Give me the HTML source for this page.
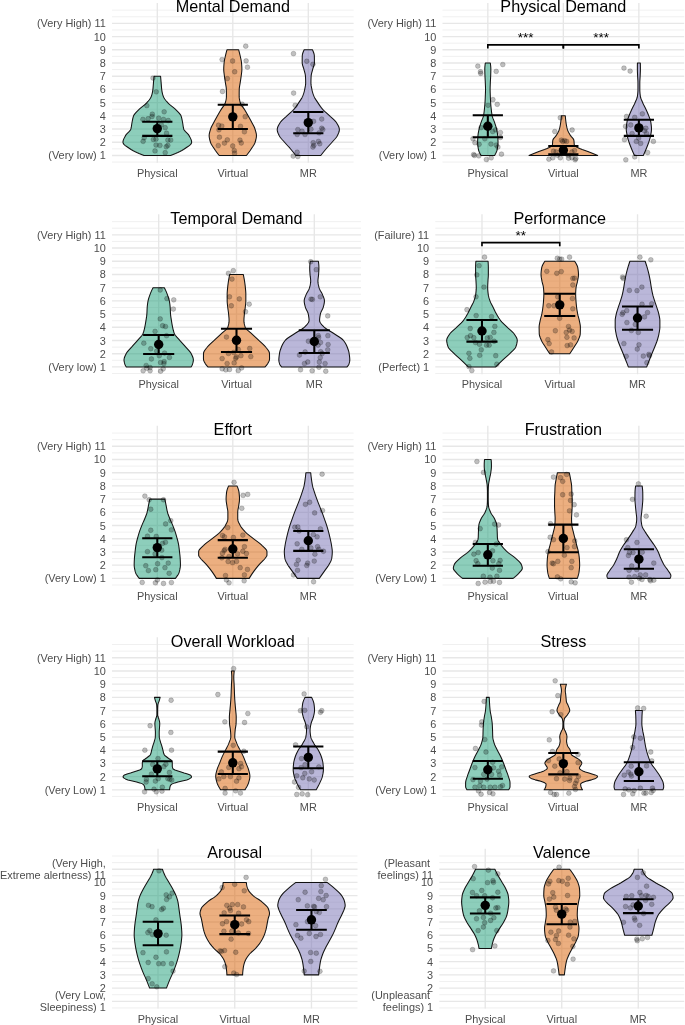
<!DOCTYPE html>
<html><head><meta charset="utf-8"><title>NASA-TLX violin plots</title>
<style>html,body{margin:0;padding:0;background:#fff}svg{display:block}</style></head>
<body>
<svg width="685" height="1025" viewBox="0 0 685 1025" font-family="Liberation Sans, Arial, sans-serif">
<rect width="685" height="1025" fill="#fff"/>
<g>
<path d="M112 162.06H353.6M112 148.86H353.6M112 135.65H353.6M112 122.44H353.6M112 109.23H353.6M112 96.02H353.6M112 82.81H353.6M112 69.59H353.6M112 56.39H353.6M112 43.17H353.6M112 29.96H353.6M112 16.75H353.6M112 10.15H353.6" stroke="#eaeaea" stroke-width="0.7" fill="none"/>
<path d="M112 155.46H353.6M112 142.25H353.6M112 129.04H353.6M112 115.83H353.6M112 102.62H353.6M112 89.41H353.6M112 76.2H353.6M112 62.99H353.6M112 49.78H353.6M112 36.57H353.6M112 23.36H353.6M157.3 2.88V162.73M232.8 2.88V162.73M308.3 2.88V162.73" stroke="#e7e7e7" stroke-width="1.35" fill="none"/>
<g font-size="10.9" fill="#4d4d4d" text-anchor="end">
<text x="105.8" y="159.46">(Very low) 1</text>
<text x="105.8" y="146.25">2</text>
<text x="105.8" y="133.04">3</text>
<text x="105.8" y="119.83">4</text>
<text x="105.8" y="106.62">5</text>
<text x="105.8" y="93.41">6</text>
<text x="105.8" y="80.2">7</text>
<text x="105.8" y="66.99">8</text>
<text x="105.8" y="53.78">9</text>
<text x="105.8" y="40.57">10</text>
<text x="105.8" y="27.36">(Very High) 11</text>
</g>
<g font-size="10.9" fill="#4d4d4d" text-anchor="middle">
<text x="157.3" y="176.96">Physical</text>
<text x="232.8" y="176.96">Virtual</text>
<text x="308.3" y="176.96">MR</text>
</g>
<text x="232.8" y="12.16" font-size="16.2" fill="#000" text-anchor="middle">Mental Demand</text>
<path d="M154.02 76.2L153.94 77.19L153.85 78.18L153.77 79.17L153.69 80.16L153.61 81.15L153.52 82.14L153.44 83.14L153.36 84.13L153.28 85.12L153.2 86.11L153.12 87.1L153.03 88.09L152.93 89.08L152.8 90.07L152.65 91.06L152.47 92.05L152.26 93.04L152.01 94.03L151.72 95.02L151.4 96.02L151.02 97.01L150.51 98L149.88 98.99L149.15 99.98L148.36 100.97L147.51 101.96L146.64 102.95L145.67 103.94L144.53 104.93L143.29 105.92L142.01 106.91L140.76 107.9L139.61 108.89L138.6 109.89L137.6 110.88L136.61 111.87L135.67 112.86L134.82 113.85L134.1 114.84L133.57 115.83L133.23 116.82L132.95 117.81L132.72 118.8L132.52 119.79L132.34 120.78L132.16 121.77L131.97 122.77L131.8 123.76L131.65 124.75L131.51 125.74L131.36 126.73L131.18 127.72L130.95 128.71L130.6 129.7L129.95 130.69L129.07 131.68L128.07 132.67L127.06 133.66L126.16 134.65L125.48 135.65L124.95 136.64L124.43 137.63L123.94 138.62L123.51 139.61L123.18 140.6L122.99 141.59L122.97 142.58L123.36 143.57L124.17 144.56L125.29 145.55L126.63 146.54L128.09 147.53L129.56 148.52L131.04 149.52L132.74 150.51L134.65 151.5L136.76 152.49L139.04 153.48L141.47 154.47L144.03 155.46L170.57 155.46L173.13 154.47L175.56 153.48L177.84 152.49L179.95 151.5L181.86 150.51L183.56 149.52L185.04 148.52L186.51 147.53L187.97 146.54L189.31 145.55L190.43 144.56L191.24 143.57L191.63 142.58L191.61 141.59L191.42 140.6L191.09 139.61L190.66 138.62L190.17 137.63L189.65 136.64L189.12 135.65L188.44 134.65L187.54 133.66L186.53 132.67L185.53 131.68L184.65 130.69L184 129.7L183.65 128.71L183.42 127.72L183.24 126.73L183.09 125.74L182.95 124.75L182.8 123.76L182.63 122.77L182.44 121.77L182.26 120.78L182.08 119.79L181.88 118.8L181.65 117.81L181.37 116.82L181.03 115.83L180.5 114.84L179.78 113.85L178.93 112.86L177.99 111.87L177 110.88L176 109.89L174.99 108.89L173.84 107.9L172.59 106.91L171.31 105.92L170.07 104.93L168.93 103.94L167.96 102.95L167.09 101.96L166.24 100.97L165.45 99.98L164.72 98.99L164.09 98L163.58 97.01L163.2 96.02L162.88 95.02L162.59 94.03L162.34 93.04L162.13 92.05L161.95 91.06L161.8 90.07L161.67 89.08L161.57 88.09L161.48 87.1L161.4 86.11L161.32 85.12L161.24 84.13L161.16 83.14L161.08 82.14L160.99 81.15L160.91 80.16L160.83 79.17L160.75 78.18L160.66 77.19L160.58 76.2Z" fill="#1B9E77" fill-opacity="0.5" stroke="#111" stroke-width="1.05" stroke-linejoin="round"/>
<path d="M226.95 49.78L226.67 50.78L226.4 51.77L226.14 52.77L225.89 53.77L225.66 54.76L225.43 55.76L225.21 56.76L224.99 57.76L224.76 58.75L224.56 59.75L224.37 60.75L224.22 61.74L224.11 62.74L224.02 63.74L223.94 64.73L223.87 65.73L223.8 66.73L223.76 67.73L223.74 68.72L223.74 69.72L223.79 70.72L223.87 71.71L223.98 72.71L224.11 73.71L224.24 74.7L224.37 75.7L224.5 76.7L224.63 77.7L224.78 78.69L224.93 79.69L225.09 80.69L225.25 81.68L225.4 82.68L225.56 83.68L225.73 84.67L225.91 85.67L226.08 86.67L226.22 87.67L226.32 88.66L226.36 89.66L226.38 90.66L226.4 91.65L226.41 92.65L226.42 93.65L226.42 94.64L226.43 95.64L226.42 96.64L226.35 97.64L226.23 98.63L226.06 99.63L225.86 100.63L225.63 101.62L225.38 102.62L225.03 103.62L224.5 104.61L223.85 105.61L223.13 106.61L222.4 107.6L221.7 108.6L221.08 109.6L220.49 110.6L219.9 111.59L219.32 112.59L218.75 113.59L218.18 114.58L217.61 115.58L217.05 116.58L216.49 117.57L215.93 118.57L215.38 119.57L214.83 120.57L214.3 121.56L213.78 122.56L213.24 123.56L212.69 124.55L212.14 125.55L211.63 126.55L211.16 127.54L210.77 128.54L210.45 129.54L210.14 130.54L209.84 131.53L209.58 132.53L209.36 133.53L209.21 134.52L209.15 135.52L209.19 136.52L209.3 137.51L209.48 138.51L209.7 139.51L209.97 140.51L210.26 141.5L210.56 142.5L210.97 143.5L211.49 144.49L212.09 145.49L212.74 146.49L213.42 147.48L214.09 148.48L214.74 149.48L215.42 150.48L216.13 151.47L216.86 152.47L217.62 153.47L218.4 154.46L219.2 155.46L246.4 155.46L247.2 154.46L247.98 153.47L248.74 152.47L249.47 151.47L250.18 150.48L250.86 149.48L251.51 148.48L252.18 147.48L252.86 146.49L253.51 145.49L254.11 144.49L254.63 143.5L255.04 142.5L255.34 141.5L255.63 140.51L255.9 139.51L256.12 138.51L256.3 137.51L256.41 136.52L256.45 135.52L256.39 134.52L256.24 133.53L256.02 132.53L255.76 131.53L255.46 130.54L255.15 129.54L254.83 128.54L254.44 127.54L253.97 126.55L253.46 125.55L252.91 124.55L252.36 123.56L251.82 122.56L251.3 121.56L250.77 120.57L250.22 119.57L249.67 118.57L249.11 117.57L248.55 116.58L247.99 115.58L247.42 114.58L246.85 113.59L246.28 112.59L245.7 111.59L245.11 110.6L244.52 109.6L243.9 108.6L243.2 107.6L242.47 106.61L241.75 105.61L241.1 104.61L240.57 103.62L240.22 102.62L239.97 101.62L239.74 100.63L239.54 99.63L239.37 98.63L239.25 97.64L239.18 96.64L239.17 95.64L239.18 94.64L239.18 93.65L239.19 92.65L239.2 91.65L239.22 90.66L239.24 89.66L239.28 88.66L239.38 87.67L239.52 86.67L239.69 85.67L239.87 84.67L240.04 83.68L240.2 82.68L240.35 81.68L240.51 80.69L240.67 79.69L240.82 78.69L240.97 77.7L241.1 76.7L241.23 75.7L241.36 74.7L241.49 73.71L241.62 72.71L241.73 71.71L241.81 70.72L241.86 69.72L241.86 68.72L241.84 67.73L241.8 66.73L241.73 65.73L241.66 64.73L241.58 63.74L241.49 62.74L241.38 61.74L241.23 60.75L241.04 59.75L240.84 58.75L240.61 57.76L240.39 56.76L240.17 55.76L239.94 54.76L239.71 53.77L239.46 52.77L239.2 51.77L238.93 50.78L238.65 49.78Z" fill="#D95F02" fill-opacity="0.5" stroke="#111" stroke-width="1.05" stroke-linejoin="round"/>
<path d="M304.16 49.78L303.72 50.78L303.29 51.77L302.92 52.77L302.6 53.77L302.38 54.76L302.27 55.76L302.24 56.76L302.23 57.76L302.21 58.75L302.2 59.75L302.2 60.75L302.19 61.74L302.19 62.74L302.29 63.74L302.49 64.73L302.78 65.73L303.1 66.73L303.43 67.73L303.72 68.72L303.98 69.72L304.25 70.72L304.53 71.71L304.81 72.71L305.06 73.71L305.27 74.7L305.42 75.7L305.49 76.7L305.54 77.7L305.58 78.69L305.62 79.69L305.65 80.69L305.66 81.68L305.67 82.68L305.65 83.68L305.57 84.67L305.44 85.67L305.26 86.67L305.07 87.67L304.86 88.66L304.66 89.66L304.44 90.66L304.19 91.65L303.91 92.65L303.6 93.65L303.26 94.64L302.89 95.64L302.48 96.64L301.98 97.64L301.41 98.63L300.79 99.63L300.13 100.63L299.46 101.62L298.79 102.62L298.14 103.62L297.47 104.61L296.78 105.61L296.06 106.61L295.31 107.6L294.5 108.6L293.64 109.6L292.67 110.6L291.62 111.59L290.5 112.59L289.37 113.59L288.25 114.58L287.17 115.58L286.11 116.58L284.99 117.57L283.87 118.57L282.79 119.57L281.79 120.57L280.93 121.56L280.26 122.56L279.64 123.56L279.03 124.55L278.47 125.55L277.98 126.55L277.59 127.54L277.33 128.54L277.23 129.54L277.3 130.54L277.51 131.53L277.83 132.53L278.24 133.53L278.68 134.52L279.15 135.52L279.68 136.52L280.38 137.51L281.19 138.51L282.07 139.51L283 140.51L283.91 141.5L284.78 142.5L285.66 143.5L286.56 144.49L287.48 145.49L288.4 146.49L289.31 147.48L290.19 148.48L291.03 149.48L291.86 150.48L292.68 151.47L293.49 152.47L294.28 153.47L295.06 154.46L295.82 155.46L320.78 155.46L321.54 154.46L322.32 153.47L323.11 152.47L323.92 151.47L324.74 150.48L325.57 149.48L326.41 148.48L327.29 147.48L328.2 146.49L329.12 145.49L330.04 144.49L330.94 143.5L331.82 142.5L332.69 141.5L333.6 140.51L334.53 139.51L335.41 138.51L336.22 137.51L336.92 136.52L337.45 135.52L337.92 134.52L338.36 133.53L338.77 132.53L339.09 131.53L339.3 130.54L339.37 129.54L339.27 128.54L339.01 127.54L338.62 126.55L338.13 125.55L337.57 124.55L336.96 123.56L336.34 122.56L335.67 121.56L334.81 120.57L333.81 119.57L332.73 118.57L331.61 117.57L330.49 116.58L329.43 115.58L328.35 114.58L327.23 113.59L326.1 112.59L324.98 111.59L323.93 110.6L322.96 109.6L322.1 108.6L321.29 107.6L320.54 106.61L319.82 105.61L319.13 104.61L318.46 103.62L317.81 102.62L317.14 101.62L316.47 100.63L315.81 99.63L315.19 98.63L314.62 97.64L314.12 96.64L313.71 95.64L313.34 94.64L313 93.65L312.69 92.65L312.41 91.65L312.16 90.66L311.94 89.66L311.74 88.66L311.53 87.67L311.34 86.67L311.16 85.67L311.03 84.67L310.95 83.68L310.93 82.68L310.94 81.68L310.95 80.69L310.98 79.69L311.02 78.69L311.06 77.7L311.11 76.7L311.18 75.7L311.33 74.7L311.54 73.71L311.79 72.71L312.07 71.71L312.35 70.72L312.62 69.72L312.88 68.72L313.17 67.73L313.5 66.73L313.82 65.73L314.11 64.73L314.31 63.74L314.41 62.74L314.41 61.74L314.4 60.75L314.4 59.75L314.39 58.75L314.37 57.76L314.36 56.76L314.33 55.76L314.22 54.76L314 53.77L313.68 52.77L313.31 51.77L312.88 50.78L312.44 49.78Z" fill="#7570B3" fill-opacity="0.5" stroke="#111" stroke-width="1.05" stroke-linejoin="round"/>
<g fill="#000" fill-opacity="0.25" stroke="#000" stroke-opacity="0.25" stroke-width="0.7">
<circle cx="152.99" cy="78.04" r="2.4"/>
<circle cx="156.28" cy="91.83" r="2.4"/>
<circle cx="146.82" cy="105.63" r="2.4"/>
<circle cx="164.16" cy="111.8" r="2.4"/>
<circle cx="152.34" cy="114.17" r="2.4"/>
<circle cx="152.07" cy="116.53" r="2.4"/>
<circle cx="148.13" cy="118.77" r="2.4"/>
<circle cx="142.88" cy="119.42" r="2.4"/>
<circle cx="158.64" cy="118.11" r="2.4"/>
<circle cx="163.5" cy="119.42" r="2.4"/>
<circle cx="168.23" cy="120.48" r="2.4"/>
<circle cx="161.27" cy="124.68" r="2.4"/>
<circle cx="165.21" cy="127.7" r="2.4"/>
<circle cx="166.53" cy="133.22" r="2.4"/>
<circle cx="144.19" cy="137.82" r="2.4"/>
<circle cx="143.14" cy="141.37" r="2.4"/>
<circle cx="153.39" cy="139.53" r="2.4"/>
<circle cx="156.01" cy="139.13" r="2.4"/>
<circle cx="167.84" cy="140.05" r="2.4"/>
<circle cx="170.73" cy="140.05" r="2.4"/>
<circle cx="156.01" cy="145.04" r="2.4"/>
<circle cx="159.96" cy="145.44" r="2.4"/>
<circle cx="167.84" cy="145.44" r="2.4"/>
<circle cx="166.26" cy="146.75" r="2.4"/>
<circle cx="154.96" cy="150.96" r="2.4"/>
<circle cx="165.21" cy="152.66" r="2.4"/>
</g>
<g fill="#000" fill-opacity="0.25" stroke="#000" stroke-opacity="0.25" stroke-width="0.7">
<circle cx="245.73" cy="46.15" r="2.4"/>
<circle cx="222.08" cy="59.56" r="2.4"/>
<circle cx="232.59" cy="61" r="2.4"/>
<circle cx="246.12" cy="60.87" r="2.4"/>
<circle cx="247.44" cy="67.18" r="2.4"/>
<circle cx="234.69" cy="71.77" r="2.4"/>
<circle cx="227.34" cy="78.61" r="2.4"/>
<circle cx="222.47" cy="91.48" r="2.4"/>
<circle cx="242.18" cy="104.23" r="2.4"/>
<circle cx="245.2" cy="116.71" r="2.4"/>
<circle cx="218.53" cy="125.25" r="2.4"/>
<circle cx="221.82" cy="126.04" r="2.4"/>
<circle cx="240.47" cy="126.3" r="2.4"/>
<circle cx="218.93" cy="129.85" r="2.4"/>
<circle cx="244.42" cy="131.82" r="2.4"/>
<circle cx="219.45" cy="137.21" r="2.4"/>
<circle cx="227.34" cy="139.83" r="2.4"/>
<circle cx="224.45" cy="143.12" r="2.4"/>
<circle cx="239.95" cy="140.1" r="2.4"/>
<circle cx="241.26" cy="142.99" r="2.4"/>
<circle cx="218.27" cy="145.61" r="2.4"/>
<circle cx="232.72" cy="146.01" r="2.4"/>
<circle cx="234.3" cy="150.61" r="2.4"/>
<circle cx="234.56" cy="153.23" r="2.4"/>
</g>
<g fill="#000" fill-opacity="0.25" stroke="#000" stroke-opacity="0.25" stroke-width="0.7">
<circle cx="293.48" cy="53.64" r="2.4"/>
<circle cx="306.75" cy="61.26" r="2.4"/>
<circle cx="312.93" cy="64.29" r="2.4"/>
<circle cx="293.61" cy="93.06" r="2.4"/>
<circle cx="295.19" cy="105.28" r="2.4"/>
<circle cx="321.73" cy="119.07" r="2.4"/>
<circle cx="313.58" cy="121.31" r="2.4"/>
<circle cx="297.82" cy="129.58" r="2.4"/>
<circle cx="302.02" cy="131.16" r="2.4"/>
<circle cx="310.96" cy="129.19" r="2.4"/>
<circle cx="321.73" cy="128.27" r="2.4"/>
<circle cx="322.78" cy="129.58" r="2.4"/>
<circle cx="319.1" cy="132.87" r="2.4"/>
<circle cx="297.16" cy="134.45" r="2.4"/>
<circle cx="305.04" cy="134.45" r="2.4"/>
<circle cx="318.45" cy="141.41" r="2.4"/>
<circle cx="313.19" cy="142.72" r="2.4"/>
<circle cx="319.76" cy="143.77" r="2.4"/>
<circle cx="313.85" cy="145.35" r="2.4"/>
<circle cx="312.93" cy="147.06" r="2.4"/>
<circle cx="297.16" cy="152.18" r="2.4"/>
<circle cx="293.22" cy="156.12" r="2.4"/>
<circle cx="297.82" cy="156.52" r="2.4"/>
</g>
<path d="M157.3 121.79V135.85M142.2 121.79H172.4M142.2 135.85H172.4" stroke="#000" stroke-width="2.05" fill="none"/>
<circle cx="157.3" cy="128.62" r="4.7" fill="#000"/>
<path d="M232.8 104.75V129.06M217.7 104.75H247.9M217.7 129.06H247.9" stroke="#000" stroke-width="2.05" fill="none"/>
<circle cx="232.8" cy="116.84" r="4.7" fill="#000"/>
<path d="M308.3 111.98V133.26M293.2 111.98H323.4M293.2 133.26H323.4" stroke="#000" stroke-width="2.05" fill="none"/>
<circle cx="308.3" cy="122.62" r="4.7" fill="#000"/>
</g>
<g>
<path d="M442.5 162.06H684.2M442.5 148.86H684.2M442.5 135.65H684.2M442.5 122.44H684.2M442.5 109.23H684.2M442.5 96.02H684.2M442.5 82.81H684.2M442.5 69.59H684.2M442.5 56.39H684.2M442.5 43.17H684.2M442.5 29.96H684.2M442.5 16.75H684.2M442.5 10.15H684.2" stroke="#eaeaea" stroke-width="0.7" fill="none"/>
<path d="M442.5 155.46H684.2M442.5 142.25H684.2M442.5 129.04H684.2M442.5 115.83H684.2M442.5 102.62H684.2M442.5 89.41H684.2M442.5 76.2H684.2M442.5 62.99H684.2M442.5 49.78H684.2M442.5 36.57H684.2M442.5 23.36H684.2M487.82 2.88V162.73M563.35 2.88V162.73M638.88 2.88V162.73" stroke="#e7e7e7" stroke-width="1.35" fill="none"/>
<g font-size="10.9" fill="#4d4d4d" text-anchor="end">
<text x="436.3" y="159.46">(Very low) 1</text>
<text x="436.3" y="146.25">2</text>
<text x="436.3" y="133.04">3</text>
<text x="436.3" y="119.83">4</text>
<text x="436.3" y="106.62">5</text>
<text x="436.3" y="93.41">6</text>
<text x="436.3" y="80.2">7</text>
<text x="436.3" y="66.99">8</text>
<text x="436.3" y="53.78">9</text>
<text x="436.3" y="40.57">10</text>
<text x="436.3" y="27.36">(Very High) 11</text>
</g>
<g font-size="10.9" fill="#4d4d4d" text-anchor="middle">
<text x="487.82" y="176.96">Physical</text>
<text x="563.35" y="176.96">Virtual</text>
<text x="638.88" y="176.96">MR</text>
</g>
<text x="563.35" y="12.16" font-size="16.2" fill="#000" text-anchor="middle">Physical Demand</text>
<path d="M485.32 62.99L485.19 63.98L485.07 64.98L484.96 65.97L484.88 66.97L484.82 67.96L484.8 68.96L484.8 69.95L484.82 70.94L484.84 71.94L484.87 72.93L484.9 73.93L484.94 74.92L484.98 75.92L485.01 76.91L485.06 77.9L485.11 78.9L485.17 79.89L485.23 80.89L485.28 81.88L485.32 82.88L485.36 83.87L485.4 84.86L485.44 85.86L485.47 86.85L485.5 87.85L485.52 88.84L485.52 89.84L485.51 90.83L485.48 91.82L485.45 92.82L485.41 93.81L485.37 94.81L485.33 95.8L485.29 96.8L485.25 97.79L485.21 98.78L485.16 99.78L485.11 100.77L485.05 101.77L484.99 102.76L484.92 103.76L484.84 104.75L484.75 105.74L484.66 106.74L484.56 107.73L484.46 108.73L484.35 109.72L484.24 110.72L484.12 111.71L483.99 112.71L483.85 113.7L483.69 114.69L483.5 115.69L483.26 116.68L482.94 117.68L482.57 118.67L482.16 119.67L481.75 120.66L481.37 121.65L481.02 122.65L480.69 123.64L480.36 124.64L480.03 125.63L479.72 126.63L479.44 127.62L479.18 128.61L478.96 129.61L478.75 130.6L478.55 131.6L478.36 132.59L478.2 133.59L478.07 134.58L477.97 135.57L477.89 136.57L477.82 137.56L477.76 138.56L477.7 139.55L477.66 140.55L477.64 141.54L477.64 142.53L477.67 143.53L477.74 144.52L477.84 145.52L477.96 146.51L478.1 147.51L478.25 148.5L478.44 149.49L478.71 150.49L479.07 151.48L479.49 152.48L479.97 153.47L480.5 154.47L481.05 155.46L494.59 155.46L495.14 154.47L495.66 153.47L496.14 152.48L496.57 151.48L496.93 150.49L497.2 149.49L497.39 148.5L497.54 147.51L497.68 146.51L497.8 145.52L497.9 144.52L497.97 143.53L498 142.53L498 141.54L497.97 140.55L497.93 139.55L497.88 138.56L497.82 137.56L497.74 136.57L497.67 135.57L497.57 134.58L497.44 133.59L497.27 132.59L497.09 131.6L496.89 130.6L496.68 129.61L496.45 128.61L496.2 127.62L495.92 126.63L495.61 125.63L495.28 124.64L494.95 123.64L494.62 122.65L494.27 121.65L493.88 120.66L493.48 119.67L493.07 118.67L492.69 117.68L492.37 116.68L492.13 115.69L491.95 114.69L491.79 113.7L491.65 112.71L491.52 111.71L491.4 110.72L491.29 109.72L491.18 108.73L491.08 107.73L490.98 106.74L490.88 105.74L490.8 104.75L490.72 103.76L490.65 102.76L490.59 101.77L490.53 100.77L490.48 99.78L490.43 98.78L490.38 97.79L490.34 96.8L490.3 95.8L490.26 94.81L490.22 93.81L490.19 92.82L490.15 91.82L490.13 90.83L490.12 89.84L490.12 88.84L490.14 87.85L490.16 86.85L490.2 85.86L490.24 84.86L490.28 83.87L490.32 82.88L490.36 81.88L490.41 80.89L490.47 79.89L490.52 78.9L490.58 77.9L490.62 76.91L490.66 75.92L490.7 74.92L490.73 73.93L490.77 72.93L490.8 71.94L490.82 70.94L490.84 69.95L490.84 68.96L490.81 67.96L490.76 66.97L490.67 65.97L490.57 64.98L490.45 63.98L490.32 62.99Z" fill="#1B9E77" fill-opacity="0.5" stroke="#111" stroke-width="1.05" stroke-linejoin="round"/>
<path d="M561.38 115.83L561.32 116.82L561.24 117.81L561.15 118.8L561.04 119.79L560.92 120.78L560.8 121.77L560.67 122.77L560.52 123.76L560.36 124.75L560.18 125.74L559.98 126.73L559.76 127.72L559.5 128.71L559.21 129.7L558.82 130.69L558.37 131.68L557.85 132.67L557.29 133.66L556.71 134.65L556.11 135.65L555.37 136.64L554.46 137.63L553.6 138.62L552.99 139.61L552.76 140.6L552.66 141.59L552.6 142.58L552.54 143.57L552.45 144.56L552.24 145.55L551.05 146.54L549.13 147.53L547.08 148.52L544.52 149.52L541.67 150.51L538.85 151.5L536.29 152.49L533.82 153.48L531.41 154.47L529.06 155.46L597.64 155.46L595.29 154.47L592.88 153.48L590.41 152.49L587.85 151.5L585.03 150.51L582.18 149.52L579.62 148.52L577.57 147.53L575.65 146.54L574.46 145.55L574.25 144.56L574.16 143.57L574.1 142.58L574.04 141.59L573.94 140.6L573.71 139.61L573.1 138.62L572.24 137.63L571.33 136.64L570.59 135.65L569.99 134.65L569.41 133.66L568.85 132.67L568.33 131.68L567.88 130.69L567.49 129.7L567.2 128.71L566.94 127.72L566.72 126.73L566.52 125.74L566.34 124.75L566.18 123.76L566.03 122.77L565.9 121.77L565.78 120.78L565.66 119.79L565.55 118.8L565.46 117.81L565.38 116.82L565.32 115.83Z" fill="#D95F02" fill-opacity="0.5" stroke="#111" stroke-width="1.05" stroke-linejoin="round"/>
<path d="M637.44 62.99L637.41 63.98L637.39 64.98L637.38 65.97L637.37 66.97L637.37 67.96L637.37 68.96L637.38 69.95L637.4 70.94L637.43 71.94L637.47 72.93L637.52 73.93L637.57 74.92L637.61 75.92L637.66 76.91L637.72 77.9L637.78 78.9L637.85 79.89L637.9 80.89L637.94 81.88L637.96 82.88L637.96 83.87L637.96 84.86L637.96 85.86L637.96 86.85L637.96 87.85L637.96 88.84L637.96 89.84L637.93 90.83L637.88 91.82L637.8 92.82L637.71 93.81L637.6 94.81L637.47 95.8L637.31 96.8L637.05 97.79L636.71 98.78L636.32 99.78L635.89 100.77L635.45 101.77L635.02 102.76L634.58 103.76L634.1 104.75L633.59 105.74L633.08 106.74L632.57 107.73L632.08 108.73L631.62 109.72L631.17 110.72L630.72 111.71L630.28 112.71L629.85 113.7L629.45 114.69L629.06 115.69L628.69 116.68L628.31 117.68L627.94 118.67L627.6 119.67L627.29 120.66L627.05 121.65L626.88 122.65L626.74 123.64L626.6 124.64L626.48 125.63L626.38 126.63L626.31 127.62L626.27 128.61L626.28 129.61L626.34 130.6L626.46 131.6L626.62 132.59L626.8 133.59L626.99 134.58L627.18 135.57L627.38 136.57L627.62 137.56L627.89 138.56L628.19 139.55L628.5 140.55L628.81 141.54L629.14 142.53L629.48 143.53L629.84 144.52L630.22 145.52L630.61 146.51L631.01 147.51L631.41 148.5L631.82 149.49L632.24 150.49L632.67 151.48L633.11 152.48L633.56 153.47L634.01 154.47L634.48 155.46L643.28 155.46L643.75 154.47L644.21 153.47L644.65 152.48L645.09 151.48L645.52 150.49L645.94 149.49L646.35 148.5L646.75 147.51L647.15 146.51L647.54 145.52L647.92 144.52L648.28 143.53L648.63 142.53L648.95 141.54L649.27 140.55L649.58 139.55L649.87 138.56L650.14 137.56L650.38 136.57L650.58 135.57L650.78 134.58L650.97 133.59L651.15 132.59L651.3 131.6L651.42 130.6L651.48 129.61L651.49 128.61L651.45 127.62L651.38 126.63L651.28 125.63L651.16 124.64L651.03 123.64L650.88 122.65L650.71 121.65L650.47 120.66L650.17 119.67L649.82 118.67L649.45 117.68L649.07 116.68L648.7 115.69L648.32 114.69L647.91 113.7L647.49 112.71L647.05 111.71L646.6 110.72L646.14 109.72L645.68 108.73L645.19 107.73L644.68 106.74L644.17 105.74L643.66 104.75L643.18 103.76L642.74 102.76L642.31 101.77L641.88 100.77L641.45 99.78L641.05 98.78L640.71 97.79L640.45 96.8L640.29 95.8L640.17 94.81L640.05 93.81L639.96 92.82L639.88 91.82L639.83 90.83L639.8 89.84L639.8 88.84L639.8 87.85L639.8 86.85L639.8 85.86L639.8 84.86L639.8 83.87L639.8 82.88L639.82 81.88L639.86 80.89L639.92 79.89L639.98 78.9L640.05 77.9L640.1 76.91L640.15 75.92L640.2 74.92L640.24 73.93L640.29 72.93L640.33 71.94L640.37 70.94L640.39 69.95L640.39 68.96L640.39 67.96L640.39 66.97L640.38 65.97L640.37 64.98L640.35 63.98L640.33 62.99Z" fill="#7570B3" fill-opacity="0.5" stroke="#111" stroke-width="1.05" stroke-linejoin="round"/>
<g fill="#000" fill-opacity="0.25" stroke="#000" stroke-opacity="0.25" stroke-width="0.7">
<circle cx="477.82" cy="66.12" r="2.4"/>
<circle cx="502.78" cy="64.55" r="2.4"/>
<circle cx="496.21" cy="71.38" r="2.4"/>
<circle cx="480.45" cy="71.77" r="2.4"/>
<circle cx="480.71" cy="73.48" r="2.4"/>
<circle cx="492.93" cy="99.63" r="2.4"/>
<circle cx="497.26" cy="104.36" r="2.4"/>
<circle cx="488.07" cy="105.28" r="2.4"/>
<circle cx="481.1" cy="127.61" r="2.4"/>
<circle cx="495.55" cy="129.85" r="2.4"/>
<circle cx="492.66" cy="131.56" r="2.4"/>
<circle cx="500.42" cy="132.61" r="2.4"/>
<circle cx="472.96" cy="138.78" r="2.4"/>
<circle cx="484.78" cy="138.78" r="2.4"/>
<circle cx="500.42" cy="137.47" r="2.4"/>
<circle cx="474.93" cy="142.72" r="2.4"/>
<circle cx="479.13" cy="144.3" r="2.4"/>
<circle cx="490.96" cy="144.04" r="2.4"/>
<circle cx="496.21" cy="145.09" r="2.4"/>
<circle cx="497.92" cy="147.06" r="2.4"/>
<circle cx="473.61" cy="154.55" r="2.4"/>
<circle cx="474.53" cy="155.47" r="2.4"/>
<circle cx="478.87" cy="155.86" r="2.4"/>
<circle cx="501.47" cy="154.15" r="2.4"/>
<circle cx="491.22" cy="157.83" r="2.4"/>
<circle cx="486.36" cy="159.54" r="2.4"/>
</g>
<g fill="#000" fill-opacity="0.25" stroke="#000" stroke-opacity="0.25" stroke-width="0.7">
<circle cx="560.31" cy="117.76" r="2.4"/>
<circle cx="554.79" cy="131.56" r="2.4"/>
<circle cx="572.13" cy="129.98" r="2.4"/>
<circle cx="561.36" cy="140.1" r="2.4"/>
<circle cx="564.64" cy="140.75" r="2.4"/>
<circle cx="566.61" cy="141.41" r="2.4"/>
<circle cx="562.67" cy="141.41" r="2.4"/>
<circle cx="553.47" cy="151.26" r="2.4"/>
<circle cx="556.1" cy="151.92" r="2.4"/>
<circle cx="571.87" cy="151.92" r="2.4"/>
<circle cx="574.5" cy="150.61" r="2.4"/>
<circle cx="548.88" cy="159.15" r="2.4"/>
<circle cx="552.82" cy="157.83" r="2.4"/>
<circle cx="560.31" cy="157.83" r="2.4"/>
<circle cx="568.58" cy="158.23" r="2.4"/>
<circle cx="571.87" cy="157.83" r="2.4"/>
<circle cx="575.15" cy="159.8" r="2.4"/>
<circle cx="575.81" cy="158.49" r="2.4"/>
<circle cx="557.42" cy="155.21" r="2.4"/>
<circle cx="567.93" cy="155.21" r="2.4"/>
</g>
<g fill="#000" fill-opacity="0.25" stroke="#000" stroke-opacity="0.25" stroke-width="0.7">
<circle cx="623.96" cy="68.1" r="2.4"/>
<circle cx="630.13" cy="71.12" r="2.4"/>
<circle cx="626.58" cy="116.45" r="2.4"/>
<circle cx="642.35" cy="113.82" r="2.4"/>
<circle cx="634.73" cy="117.37" r="2.4"/>
<circle cx="625.53" cy="126.3" r="2.4"/>
<circle cx="630.79" cy="124.99" r="2.4"/>
<circle cx="645.9" cy="128.27" r="2.4"/>
<circle cx="644.58" cy="130.9" r="2.4"/>
<circle cx="632.1" cy="133.53" r="2.4"/>
<circle cx="646.55" cy="133.53" r="2.4"/>
<circle cx="624.48" cy="139.7" r="2.4"/>
<circle cx="636.31" cy="141.41" r="2.4"/>
<circle cx="638.67" cy="138.12" r="2.4"/>
<circle cx="640.64" cy="143.38" r="2.4"/>
<circle cx="653.39" cy="141.41" r="2.4"/>
<circle cx="647.61" cy="152.58" r="2.4"/>
<circle cx="634.73" cy="156.91" r="2.4"/>
<circle cx="625.8" cy="159.8" r="2.4"/>
</g>
<path d="M487.82 115.26V137.21M472.71 115.26H502.93M472.71 137.21H502.93" stroke="#000" stroke-width="2.05" fill="none"/>
<circle cx="487.82" cy="126.3" r="4.7" fill="#000"/>
<path d="M563.35 146.01V154.29M548.24 146.01H578.46M548.24 154.29H578.46" stroke="#000" stroke-width="2.05" fill="none"/>
<circle cx="563.35" cy="150.34" r="4.7" fill="#000"/>
<path d="M638.88 119.73V135.89M623.77 119.73H653.99M623.77 135.89H653.99" stroke="#000" stroke-width="2.05" fill="none"/>
<circle cx="638.88" cy="127.88" r="4.7" fill="#000"/>
<path d="M487.82 48.49V44.89H563.35V48.49" stroke="#000" stroke-width="1.65" fill="none"/>
<text x="525.58" y="42.29" font-size="13.5" fill="#000" text-anchor="middle">***</text>
<path d="M563.35 48.49V44.89H638.88V48.49" stroke="#000" stroke-width="1.65" fill="none"/>
<text x="601.12" y="42.29" font-size="13.5" fill="#000" text-anchor="middle">***</text>
</g>
<g>
<path d="M112 373.52H361M112 360.31H361M112 347.11H361M112 333.89H361M112 320.69H361M112 307.48H361M112 294.26H361M112 281.06H361M112 267.85H361M112 254.63H361M112 241.42H361M112 228.22H361M112 221.61H361" stroke="#eaeaea" stroke-width="0.7" fill="none"/>
<path d="M112 366.92H361M112 353.71H361M112 340.5H361M112 327.29H361M112 314.08H361M112 300.87H361M112 287.66H361M112 274.45H361M112 261.24H361M112 248.03H361M112 234.82H361M158.69 214.34V374.19M236.5 214.34V374.19M314.31 214.34V374.19" stroke="#e7e7e7" stroke-width="1.35" fill="none"/>
<g font-size="10.9" fill="#4d4d4d" text-anchor="end">
<text x="105.8" y="370.92">(Very low) 1</text>
<text x="105.8" y="357.71">2</text>
<text x="105.8" y="344.5">3</text>
<text x="105.8" y="331.29">4</text>
<text x="105.8" y="318.08">5</text>
<text x="105.8" y="304.87">6</text>
<text x="105.8" y="291.66">7</text>
<text x="105.8" y="278.45">8</text>
<text x="105.8" y="265.24">9</text>
<text x="105.8" y="252.03">10</text>
<text x="105.8" y="238.82">(Very High) 11</text>
</g>
<g font-size="10.9" fill="#4d4d4d" text-anchor="middle">
<text x="158.69" y="388.42">Physical</text>
<text x="236.5" y="388.42">Virtual</text>
<text x="314.31" y="388.42">MR</text>
</g>
<text x="236.5" y="223.62" font-size="16.2" fill="#000" text-anchor="middle">Temporal Demand</text>
<path d="M153.04 287.66L152.55 288.65L152.07 289.64L151.61 290.63L151.18 291.62L150.76 292.61L150.37 293.6L150 294.6L149.64 295.59L149.28 296.58L148.94 297.57L148.62 298.56L148.35 299.55L148.12 300.54L147.93 301.53L147.77 302.52L147.62 303.51L147.49 304.5L147.37 305.49L147.27 306.48L147.19 307.47L147.13 308.47L147.08 309.46L147.04 310.45L147 311.44L146.96 312.43L146.9 313.42L146.83 314.41L146.73 315.4L146.61 316.39L146.46 317.38L146.31 318.37L146.15 319.36L145.98 320.35L145.83 321.35L145.67 322.34L145.5 323.33L145.33 324.32L145.14 325.31L144.95 326.3L144.74 327.29L144.52 328.28L144.3 329.27L144.05 330.26L143.79 331.25L143.48 332.24L143.13 333.23L142.7 334.23L142.1 335.22L141.36 336.21L140.51 337.2L139.6 338.19L138.68 339.18L137.8 340.17L136.94 341.16L136.06 342.15L135.15 343.14L134.24 344.13L133.33 345.12L132.43 346.11L131.57 347.11L130.67 348.1L129.73 349.09L128.81 350.08L127.94 351.07L127.16 352.06L126.52 353.05L126.01 354.04L125.52 355.03L125.06 356.02L124.64 357.01L124.31 358L124.09 358.99L124 359.98L124.07 360.98L124.25 361.97L124.49 362.96L124.77 363.95L125.17 364.94L125.7 365.93L126.3 366.92L191.07 366.92L191.68 365.93L192.2 364.94L192.6 363.95L192.88 362.96L193.13 361.97L193.31 360.98L193.37 359.98L193.29 358.99L193.07 358L192.73 357.01L192.32 356.02L191.85 355.03L191.36 354.04L190.86 353.05L190.21 352.06L189.43 351.07L188.56 350.08L187.64 349.09L186.71 348.1L185.81 347.11L184.94 346.11L184.05 345.12L183.14 344.13L182.22 343.14L181.32 342.15L180.43 341.16L179.58 340.17L178.7 339.18L177.78 338.19L176.87 337.2L176.02 336.21L175.27 335.22L174.67 334.23L174.25 333.23L173.89 332.24L173.59 331.25L173.32 330.26L173.08 329.27L172.85 328.28L172.64 327.29L172.43 326.3L172.23 325.31L172.05 324.32L171.87 323.33L171.71 322.34L171.55 321.35L171.39 320.35L171.23 319.36L171.07 318.37L170.91 317.38L170.77 316.39L170.64 315.4L170.54 314.41L170.47 313.42L170.42 312.43L170.37 311.44L170.33 310.45L170.29 309.46L170.25 308.47L170.18 307.47L170.1 306.48L170 305.49L169.89 304.5L169.76 303.51L169.61 302.52L169.44 301.53L169.26 300.54L169.03 299.55L168.75 298.56L168.44 297.57L168.1 296.58L167.74 295.59L167.37 294.6L167 293.6L166.61 292.61L166.2 291.62L165.76 290.63L165.3 289.64L164.83 288.65L164.34 287.66Z" fill="#1B9E77" fill-opacity="0.5" stroke="#111" stroke-width="1.05" stroke-linejoin="round"/>
<path d="M229.73 274.45L229.52 275.44L229.32 276.44L229.12 277.43L228.93 278.43L228.75 279.42L228.59 280.42L228.43 281.41L228.28 282.4L228.14 283.4L228 284.39L227.87 285.39L227.76 286.38L227.66 287.38L227.56 288.37L227.47 289.36L227.37 290.36L227.29 291.35L227.23 292.35L227.18 293.34L227.17 294.34L227.17 295.33L227.17 296.32L227.17 297.32L227.17 298.31L227.17 299.31L227.17 300.3L227.18 301.3L227.21 302.29L227.29 303.28L227.39 304.28L227.5 305.27L227.62 306.27L227.74 307.26L227.85 308.26L227.98 309.25L228.13 310.24L228.27 311.24L228.41 312.23L228.53 313.23L228.63 314.22L228.73 315.22L228.82 316.21L228.91 317.2L228.99 318.2L229.04 319.19L229.07 320.19L229.06 321.18L228.99 322.18L228.85 323.17L228.66 324.17L228.42 325.16L228.14 326.15L227.84 327.15L227.35 328.14L226.55 329.14L225.52 330.13L224.35 331.13L223.14 332.12L221.96 333.11L220.89 334.11L219.83 335.1L218.75 336.1L217.66 337.09L216.57 338.09L215.49 339.08L214.43 340.07L213.37 341.07L212.27 342.06L211.17 343.06L210.1 344.05L209.08 345.05L208.16 346.04L207.35 347.03L206.57 348.03L205.76 349.02L205 350.02L204.35 351.01L203.85 352.01L203.56 353L203.51 353.99L203.49 354.99L203.48 355.98L203.47 356.98L203.46 357.97L203.46 358.97L203.58 359.96L203.92 360.95L204.4 361.95L204.95 362.94L205.5 363.94L206.19 364.93L207.01 365.93L207.92 366.92L265.08 366.92L265.99 365.93L266.81 364.93L267.5 363.94L268.05 362.94L268.6 361.95L269.08 360.95L269.42 359.96L269.54 358.97L269.54 357.97L269.53 356.98L269.52 355.98L269.51 354.99L269.49 353.99L269.44 353L269.15 352.01L268.65 351.01L268 350.02L267.24 349.02L266.43 348.03L265.65 347.03L264.84 346.04L263.92 345.05L262.9 344.05L261.83 343.06L260.73 342.06L259.63 341.07L258.57 340.07L257.51 339.08L256.43 338.09L255.34 337.09L254.25 336.1L253.17 335.1L252.11 334.11L251.04 333.11L249.86 332.12L248.65 331.13L247.48 330.13L246.45 329.14L245.65 328.14L245.16 327.15L244.86 326.15L244.58 325.16L244.34 324.17L244.15 323.17L244.01 322.18L243.94 321.18L243.93 320.19L243.96 319.19L244.01 318.2L244.09 317.2L244.18 316.21L244.27 315.22L244.37 314.22L244.47 313.23L244.59 312.23L244.73 311.24L244.87 310.24L245.02 309.25L245.15 308.26L245.26 307.26L245.38 306.27L245.5 305.27L245.61 304.28L245.71 303.28L245.79 302.29L245.82 301.3L245.83 300.3L245.83 299.31L245.83 298.31L245.83 297.32L245.83 296.32L245.83 295.33L245.83 294.34L245.82 293.34L245.77 292.35L245.71 291.35L245.63 290.36L245.53 289.36L245.44 288.37L245.34 287.38L245.24 286.38L245.13 285.39L245 284.39L244.86 283.4L244.72 282.4L244.57 281.41L244.41 280.42L244.25 279.42L244.07 278.43L243.88 277.43L243.68 276.44L243.48 275.44L243.27 274.45Z" fill="#D95F02" fill-opacity="0.5" stroke="#111" stroke-width="1.05" stroke-linejoin="round"/>
<path d="M310.24 261.24L310.1 262.24L309.99 263.23L309.89 264.23L309.81 265.23L309.75 266.22L309.72 267.22L309.72 268.22L309.73 269.22L309.77 270.21L309.82 271.21L309.89 272.21L309.95 273.2L310.02 274.2L310.1 275.2L310.21 276.19L310.35 277.19L310.48 278.19L310.59 279.19L310.67 280.18L310.7 281.18L310.65 282.18L310.54 283.17L310.38 284.17L310.18 285.17L309.95 286.16L309.7 287.16L309.43 288.16L309.01 289.16L308.49 290.15L307.91 291.15L307.33 292.15L306.78 293.14L306.32 294.14L305.92 295.14L305.5 296.13L305.09 297.13L304.72 298.13L304.43 299.13L304.24 300.12L304.2 301.12L304.26 302.12L304.39 303.11L304.59 304.11L304.82 305.11L305.08 306.1L305.34 307.1L305.64 308.1L306.06 309.1L306.56 310.09L307.09 311.09L307.59 312.09L308.01 313.08L308.28 314.08L308.46 315.08L308.63 316.07L308.78 317.07L308.91 318.07L309 319.06L309.05 320.06L309.02 321.06L308.71 322.06L308.14 323.05L307.36 324.05L306.45 325.05L305.46 326.04L304.47 327.04L303.38 328.04L302.03 329.03L300.5 330.03L298.86 331.03L297.19 332.03L295.58 333.02L294.08 334.02L292.55 335.02L290.96 336.01L289.4 337.01L287.93 338.01L286.62 339L285.56 340L284.74 341L284.02 342L283.38 342.99L282.81 343.99L282.3 344.99L281.84 345.98L281.43 346.98L281.05 347.98L280.68 348.97L280.34 349.97L280.04 350.97L279.78 351.97L279.58 352.96L279.42 353.96L279.27 354.96L279.14 355.95L279.02 356.95L278.93 357.95L278.86 358.94L278.84 359.94L278.9 360.94L279.07 361.94L279.33 362.93L279.65 363.93L280.08 364.93L280.76 365.92L281.6 366.92L347.03 366.92L347.86 365.92L348.55 364.93L348.97 363.93L349.29 362.93L349.55 361.94L349.73 360.94L349.79 359.94L349.76 358.94L349.7 357.95L349.6 356.95L349.49 355.95L349.35 354.96L349.2 353.96L349.05 352.96L348.84 351.97L348.58 350.97L348.28 349.97L347.94 348.97L347.58 347.98L347.19 346.98L346.78 345.98L346.33 344.99L345.81 343.99L345.24 342.99L344.6 342L343.88 341L343.07 340L342 339L340.7 338.01L339.23 337.01L337.66 336.01L336.08 335.02L334.54 334.02L333.05 333.02L331.43 332.03L329.77 331.03L328.13 330.03L326.59 329.03L325.24 328.04L324.16 327.04L323.16 326.04L322.18 325.05L321.26 324.05L320.49 323.05L319.91 322.06L319.6 321.06L319.58 320.06L319.63 319.06L319.72 318.07L319.84 317.07L320 316.07L320.17 315.08L320.35 314.08L320.62 313.08L321.03 312.09L321.53 311.09L322.06 310.09L322.56 309.1L322.99 308.1L323.28 307.1L323.55 306.1L323.81 305.11L324.04 304.11L324.23 303.11L324.37 302.12L324.43 301.12L324.38 300.12L324.2 299.13L323.91 298.13L323.54 297.13L323.13 296.13L322.7 295.14L322.3 294.14L321.85 293.14L321.3 292.15L320.71 291.15L320.13 290.15L319.61 289.16L319.2 288.16L318.92 287.16L318.67 286.16L318.44 285.17L318.24 284.17L318.08 283.17L317.97 282.18L317.93 281.18L317.95 280.18L318.03 279.19L318.15 278.19L318.28 277.19L318.41 276.19L318.52 275.2L318.6 274.2L318.67 273.2L318.74 272.21L318.8 271.21L318.85 270.21L318.89 269.22L318.91 268.22L318.9 267.22L318.87 266.22L318.82 265.23L318.74 264.23L318.64 263.23L318.52 262.24L318.39 261.24Z" fill="#7570B3" fill-opacity="0.5" stroke="#111" stroke-width="1.05" stroke-linejoin="round"/>
<g fill="#000" fill-opacity="0.25" stroke="#000" stroke-opacity="0.25" stroke-width="0.7">
<circle cx="160.22" cy="290" r="2.4"/>
<circle cx="166.92" cy="298.54" r="2.4"/>
<circle cx="173.75" cy="299.85" r="2.4"/>
<circle cx="173.36" cy="309.05" r="2.4"/>
<circle cx="160.22" cy="318.91" r="2.4"/>
<circle cx="162.58" cy="325.74" r="2.4"/>
<circle cx="165.47" cy="326.53" r="2.4"/>
<circle cx="155.09" cy="331.39" r="2.4"/>
<circle cx="166.53" cy="335.72" r="2.4"/>
<circle cx="143.8" cy="343.21" r="2.4"/>
<circle cx="150.76" cy="348.73" r="2.4"/>
<circle cx="156.67" cy="351.1" r="2.4"/>
<circle cx="164.55" cy="353.07" r="2.4"/>
<circle cx="159.3" cy="355.69" r="2.4"/>
<circle cx="169.42" cy="357.4" r="2.4"/>
<circle cx="151.42" cy="358.98" r="2.4"/>
<circle cx="160.61" cy="362.53" r="2.4"/>
<circle cx="164.16" cy="361.61" r="2.4"/>
<circle cx="163.9" cy="363.58" r="2.4"/>
<circle cx="146.16" cy="365.55" r="2.4"/>
<circle cx="150.1" cy="367.52" r="2.4"/>
<circle cx="143.14" cy="370.8" r="2.4"/>
<circle cx="150.1" cy="370.8" r="2.4"/>
<circle cx="160.61" cy="371.2" r="2.4"/>
<circle cx="163.24" cy="368.83" r="2.4"/>
<circle cx="146.82" cy="368.18" r="2.4"/>
</g>
<g fill="#000" fill-opacity="0.25" stroke="#000" stroke-opacity="0.25" stroke-width="0.7">
<circle cx="233.31" cy="270.69" r="2.4"/>
<circle cx="228.45" cy="273.31" r="2.4"/>
<circle cx="231.99" cy="279.1" r="2.4"/>
<circle cx="229.5" cy="296.83" r="2.4"/>
<circle cx="239.35" cy="298.94" r="2.4"/>
<circle cx="249.2" cy="304.19" r="2.4"/>
<circle cx="231.34" cy="305.77" r="2.4"/>
<circle cx="245.53" cy="311.68" r="2.4"/>
<circle cx="226.47" cy="337.04" r="2.4"/>
<circle cx="249.73" cy="348.47" r="2.4"/>
<circle cx="238.3" cy="349.52" r="2.4"/>
<circle cx="228.45" cy="353.46" r="2.4"/>
<circle cx="233.7" cy="352.41" r="2.4"/>
<circle cx="222.14" cy="358.58" r="2.4"/>
<circle cx="236.33" cy="357.01" r="2.4"/>
<circle cx="240.93" cy="355.69" r="2.4"/>
<circle cx="250.78" cy="356.61" r="2.4"/>
<circle cx="227.13" cy="363.58" r="2.4"/>
<circle cx="234.09" cy="362.92" r="2.4"/>
<circle cx="235.67" cy="358.32" r="2.4"/>
<circle cx="222.14" cy="368.83" r="2.4"/>
<circle cx="225.82" cy="369.88" r="2.4"/>
<circle cx="229.5" cy="369.49" r="2.4"/>
<circle cx="241.58" cy="367.91" r="2.4"/>
<circle cx="238.3" cy="370.54" r="2.4"/>
</g>
<g fill="#000" fill-opacity="0.25" stroke="#000" stroke-opacity="0.25" stroke-width="0.7">
<circle cx="310.78" cy="261.75" r="2.4"/>
<circle cx="316.3" cy="269.64" r="2.4"/>
<circle cx="311.04" cy="299.2" r="2.4"/>
<circle cx="312.36" cy="299.46" r="2.4"/>
<circle cx="320.24" cy="296.83" r="2.4"/>
<circle cx="327.73" cy="315.88" r="2.4"/>
<circle cx="318.27" cy="335.59" r="2.4"/>
<circle cx="318.66" cy="337.69" r="2.4"/>
<circle cx="327.86" cy="335.72" r="2.4"/>
<circle cx="308.42" cy="341.24" r="2.4"/>
<circle cx="320.5" cy="342.56" r="2.4"/>
<circle cx="328.12" cy="344.53" r="2.4"/>
<circle cx="318.01" cy="345.18" r="2.4"/>
<circle cx="327.73" cy="349.78" r="2.4"/>
<circle cx="305.13" cy="352.02" r="2.4"/>
<circle cx="320.64" cy="351.75" r="2.4"/>
<circle cx="299.48" cy="355.04" r="2.4"/>
<circle cx="322.21" cy="353.46" r="2.4"/>
<circle cx="320.24" cy="357.66" r="2.4"/>
<circle cx="319.32" cy="362" r="2.4"/>
<circle cx="307.76" cy="362" r="2.4"/>
<circle cx="304.47" cy="363.58" r="2.4"/>
<circle cx="325.1" cy="363.58" r="2.4"/>
<circle cx="318.93" cy="367.26" r="2.4"/>
<circle cx="300.53" cy="369.75" r="2.4"/>
<circle cx="312.09" cy="370.8" r="2.4"/>
<circle cx="325.76" cy="371.2" r="2.4"/>
</g>
<path d="M158.69 335.07V353.99M143.12 335.07H174.25M143.12 353.99H174.25" stroke="#000" stroke-width="2.05" fill="none"/>
<circle cx="158.69" cy="344.53" r="4.7" fill="#000"/>
<path d="M236.5 328.76V352.02M220.94 328.76H252.06M220.94 352.02H252.06" stroke="#000" stroke-width="2.05" fill="none"/>
<circle cx="236.5" cy="340.32" r="4.7" fill="#000"/>
<path d="M314.31 330.34V353.07M298.75 330.34H329.88M298.75 353.07H329.88" stroke="#000" stroke-width="2.05" fill="none"/>
<circle cx="314.31" cy="341.5" r="4.7" fill="#000"/>
</g>
<g>
<path d="M435.3 373.52H684.2M435.3 360.31H684.2M435.3 347.11H684.2M435.3 333.89H684.2M435.3 320.69H684.2M435.3 307.48H684.2M435.3 294.26H684.2M435.3 281.06H684.2M435.3 267.85H684.2M435.3 254.63H684.2M435.3 241.42H684.2M435.3 228.22H684.2M435.3 221.61H684.2" stroke="#eaeaea" stroke-width="0.7" fill="none"/>
<path d="M435.3 366.92H684.2M435.3 353.71H684.2M435.3 340.5H684.2M435.3 327.29H684.2M435.3 314.08H684.2M435.3 300.87H684.2M435.3 287.66H684.2M435.3 274.45H684.2M435.3 261.24H684.2M435.3 248.03H684.2M435.3 234.82H684.2M481.97 214.34V374.19M559.75 214.34V374.19M637.53 214.34V374.19" stroke="#e7e7e7" stroke-width="1.35" fill="none"/>
<g font-size="10.9" fill="#4d4d4d" text-anchor="end">
<text x="429.1" y="370.92">(Perfect) 1</text>
<text x="429.1" y="357.71">2</text>
<text x="429.1" y="344.5">3</text>
<text x="429.1" y="331.29">4</text>
<text x="429.1" y="318.08">5</text>
<text x="429.1" y="304.87">6</text>
<text x="429.1" y="291.66">7</text>
<text x="429.1" y="278.45">8</text>
<text x="429.1" y="265.24">9</text>
<text x="429.1" y="252.03">10</text>
<text x="429.1" y="238.82">(Failure) 11</text>
</g>
<g font-size="10.9" fill="#4d4d4d" text-anchor="middle">
<text x="481.97" y="388.42">Physical</text>
<text x="559.75" y="388.42">Virtual</text>
<text x="637.53" y="388.42">MR</text>
</g>
<text x="559.75" y="223.62" font-size="16.2" fill="#000" text-anchor="middle">Performance</text>
<path d="M475.86 261.24L475.8 262.24L475.75 263.23L475.69 264.23L475.65 265.23L475.62 266.22L475.6 267.22L475.6 268.22L475.6 269.22L475.6 270.21L475.6 271.21L475.6 272.21L475.6 273.2L475.6 274.2L475.61 275.2L475.65 276.19L475.71 277.19L475.79 278.19L475.87 279.19L475.94 280.18L476 281.18L476.05 282.18L476.1 283.17L476.15 284.17L476.2 285.17L476.23 286.16L476.25 287.16L476.25 288.16L476.22 289.16L476.15 290.15L476.07 291.15L475.97 292.15L475.86 293.14L475.74 294.14L475.59 295.14L475.39 296.13L475.14 297.13L474.86 298.13L474.55 299.13L474.22 300.12L473.88 301.12L473.49 302.12L473.03 303.11L472.54 304.11L472.02 305.11L471.5 306.1L470.99 307.1L470.5 308.1L470.02 309.1L469.54 310.09L469.06 311.09L468.56 312.09L468.04 313.08L467.5 314.08L466.93 315.08L466.34 316.07L465.73 317.07L465.08 318.07L464.4 319.06L463.67 320.06L462.88 321.06L461.99 322.06L461.02 323.05L459.99 324.05L458.93 325.05L457.86 326.04L456.82 327.04L455.77 328.04L454.65 329.03L453.5 330.03L452.38 331.03L451.35 332.03L450.45 333.02L449.73 334.02L449.05 335.02L448.38 336.01L447.77 337.01L447.26 338.01L446.89 339L446.7 340L446.71 341L446.81 342L446.99 342.99L447.22 343.99L447.5 344.99L447.82 345.98L448.17 346.98L448.68 347.98L449.41 348.97L450.31 349.97L451.32 350.97L452.38 351.97L453.42 352.96L454.42 353.96L455.46 354.96L456.57 355.95L457.7 356.95L458.84 357.95L459.96 358.94L461.05 359.94L462.1 360.94L463.14 361.94L464.17 362.93L465.19 363.93L466.2 364.93L467.19 365.92L468.17 366.92L495.76 366.92L496.75 365.92L497.74 364.93L498.75 363.93L499.77 362.93L500.8 361.94L501.84 360.94L502.89 359.94L503.98 358.94L505.1 357.95L506.24 356.95L507.37 355.95L508.47 354.96L509.52 353.96L510.52 352.96L511.56 351.97L512.62 350.97L513.62 349.97L514.52 348.97L515.26 347.98L515.77 346.98L516.11 345.98L516.43 344.99L516.72 343.99L516.95 342.99L517.12 342L517.23 341L517.23 340L517.05 339L516.68 338.01L516.17 337.01L515.55 336.01L514.89 335.02L514.21 334.02L513.49 333.02L512.59 332.03L511.55 331.03L510.44 330.03L509.29 329.03L508.17 328.04L507.12 327.04L506.08 326.04L505.01 325.05L503.95 324.05L502.92 323.05L501.94 322.06L501.05 321.06L500.27 320.06L499.54 319.06L498.85 318.07L498.21 317.07L497.6 316.07L497.01 315.08L496.44 314.08L495.89 313.08L495.37 312.09L494.88 311.09L494.39 310.09L493.92 309.1L493.44 308.1L492.95 307.1L492.44 306.1L491.91 305.11L491.4 304.11L490.9 303.11L490.45 302.12L490.06 301.12L489.72 300.12L489.39 299.13L489.08 298.13L488.8 297.13L488.55 296.13L488.35 295.14L488.2 294.14L488.08 293.14L487.97 292.15L487.87 291.15L487.78 290.15L487.72 289.16L487.69 288.16L487.69 287.16L487.71 286.16L487.74 285.17L487.78 284.17L487.84 283.17L487.89 282.18L487.94 281.18L488 280.18L488.07 279.19L488.15 278.19L488.23 277.19L488.29 276.19L488.33 275.2L488.34 274.2L488.34 273.2L488.34 272.21L488.34 271.21L488.34 270.21L488.34 269.22L488.34 268.22L488.34 267.22L488.32 266.22L488.29 265.23L488.24 264.23L488.19 263.23L488.14 262.24L488.08 261.24Z" fill="#1B9E77" fill-opacity="0.5" stroke="#111" stroke-width="1.05" stroke-linejoin="round"/>
<path d="M544.84 261.24L544.2 262.23L543.59 263.23L543.03 264.22L542.55 265.22L542.14 266.21L541.84 267.21L541.64 268.2L541.48 269.19L541.34 270.19L541.22 271.18L541.13 272.18L541.06 273.17L541.03 274.17L541.04 275.16L541.12 276.15L541.24 277.15L541.41 278.14L541.59 279.14L541.78 280.13L541.96 281.13L542.17 282.12L542.42 283.11L542.7 284.11L542.97 285.1L543.21 286.1L543.39 287.09L543.5 288.09L543.59 289.08L543.67 290.07L543.74 291.07L543.8 292.06L543.84 293.06L543.85 294.05L543.84 295.05L543.82 296.04L543.77 297.03L543.72 298.03L543.65 299.02L543.58 300.02L543.52 301.01L543.44 302.01L543.36 303L543.26 303.99L543.16 304.99L543.05 305.98L542.93 306.98L542.8 307.97L542.67 308.97L542.53 309.96L542.37 310.96L542.2 311.95L542.02 312.94L541.84 313.94L541.62 314.93L541.38 315.93L541.11 316.92L540.83 317.92L540.57 318.91L540.32 319.9L540.12 320.9L539.91 321.89L539.69 322.89L539.49 323.88L539.32 324.88L539.19 325.87L539.13 326.86L539.12 327.86L539.13 328.85L539.15 329.85L539.17 330.84L539.19 331.84L539.22 332.83L539.26 333.82L539.37 334.82L539.6 335.81L539.91 336.81L540.29 337.8L540.7 338.8L541.13 339.79L541.56 340.78L542.06 341.78L542.64 342.77L543.26 343.77L543.91 344.76L544.57 345.76L545.21 346.75L545.83 347.74L546.47 348.74L547.11 349.73L547.76 350.73L548.42 351.72L549.09 352.72L549.76 353.71L569.74 353.71L570.41 352.72L571.08 351.72L571.74 350.73L572.39 349.73L573.03 348.74L573.67 347.74L574.29 346.75L574.93 345.76L575.59 344.76L576.24 343.77L576.86 342.77L577.44 341.78L577.94 340.78L578.37 339.79L578.8 338.8L579.21 337.8L579.59 336.81L579.9 335.81L580.13 334.82L580.24 333.82L580.28 332.83L580.31 331.84L580.33 330.84L580.35 329.85L580.37 328.85L580.38 327.86L580.37 326.86L580.31 325.87L580.18 324.88L580.01 323.88L579.81 322.89L579.59 321.89L579.38 320.9L579.18 319.9L578.93 318.91L578.67 317.92L578.39 316.92L578.12 315.93L577.88 314.93L577.66 313.94L577.48 312.94L577.3 311.95L577.13 310.96L576.97 309.96L576.83 308.97L576.7 307.97L576.57 306.98L576.45 305.98L576.34 304.99L576.24 303.99L576.14 303L576.06 302.01L575.98 301.01L575.92 300.02L575.85 299.02L575.78 298.03L575.73 297.03L575.68 296.04L575.66 295.05L575.65 294.05L575.66 293.06L575.7 292.06L575.76 291.07L575.83 290.07L575.91 289.08L576 288.09L576.11 287.09L576.29 286.1L576.53 285.1L576.8 284.11L577.08 283.11L577.33 282.12L577.54 281.13L577.72 280.13L577.91 279.14L578.09 278.14L578.26 277.15L578.38 276.15L578.46 275.16L578.47 274.17L578.44 273.17L578.37 272.18L578.28 271.18L578.16 270.19L578.02 269.19L577.86 268.2L577.66 267.21L577.36 266.21L576.95 265.22L576.47 264.22L575.91 263.23L575.3 262.23L574.66 261.24Z" fill="#D95F02" fill-opacity="0.5" stroke="#111" stroke-width="1.05" stroke-linejoin="round"/>
<path d="M629.91 261.24L629.57 262.24L629.24 263.23L628.92 264.23L628.61 265.23L628.31 266.22L628.01 267.22L627.73 268.22L627.45 269.22L627.17 270.21L626.91 271.21L626.65 272.21L626.4 273.2L626.17 274.2L625.94 275.2L625.73 276.19L625.52 277.19L625.32 278.19L625.13 279.19L624.95 280.18L624.77 281.18L624.6 282.18L624.44 283.17L624.29 284.17L624.14 285.17L623.98 286.16L623.82 287.16L623.64 288.16L623.46 289.16L623.28 290.15L623.08 291.15L622.88 292.15L622.67 293.14L622.44 294.14L622.19 295.14L621.92 296.13L621.63 297.13L621.33 298.13L621.01 299.13L620.7 300.12L620.38 301.12L620.06 302.12L619.71 303.11L619.37 304.11L619.02 305.11L618.67 306.1L618.34 307.1L618.02 308.1L617.69 309.1L617.36 310.09L617.04 311.09L616.74 312.09L616.47 313.08L616.24 314.08L616.02 315.08L615.81 316.07L615.6 317.07L615.42 318.07L615.28 319.06L615.21 320.06L615.2 321.06L615.2 322.06L615.2 323.05L615.2 324.05L615.2 325.05L615.2 326.04L615.2 327.04L615.22 328.04L615.31 329.03L615.44 330.03L615.6 331.03L615.79 332.03L615.98 333.02L616.16 334.02L616.37 335.02L616.6 336.01L616.86 337.01L617.13 338.01L617.42 339L617.72 340L618.04 341L618.39 342L618.76 342.99L619.15 343.99L619.55 344.99L619.95 345.98L620.36 346.98L620.76 347.98L621.18 348.97L621.6 349.97L622.03 350.97L622.45 351.97L622.87 352.96L623.28 353.96L623.69 354.96L624.09 355.95L624.49 356.95L624.89 357.95L625.28 358.94L625.67 359.94L626.06 360.94L626.45 361.94L626.83 362.93L627.21 363.93L627.59 364.93L627.96 365.92L628.33 366.92L646.73 366.92L647.1 365.92L647.48 364.93L647.85 363.93L648.23 362.93L648.62 361.94L649 360.94L649.39 359.94L649.78 358.94L650.18 357.95L650.57 356.95L650.97 355.95L651.37 354.96L651.78 353.96L652.19 352.96L652.61 351.97L653.03 350.97L653.46 349.97L653.88 348.97L654.3 347.98L654.71 346.98L655.11 345.98L655.51 344.99L655.91 343.99L656.3 342.99L656.68 342L657.02 341L657.34 340L657.64 339L657.93 338.01L658.2 337.01L658.46 336.01L658.69 335.02L658.9 334.02L659.08 333.02L659.28 332.03L659.46 331.03L659.63 330.03L659.76 329.03L659.84 328.04L659.87 327.04L659.87 326.04L659.87 325.05L659.87 324.05L659.87 323.05L659.87 322.06L659.87 321.06L659.85 320.06L659.78 319.06L659.64 318.07L659.46 317.07L659.26 316.07L659.04 315.08L658.82 314.08L658.59 313.08L658.32 312.09L658.02 311.09L657.71 310.09L657.38 309.1L657.05 308.1L656.72 307.1L656.39 306.1L656.05 305.11L655.7 304.11L655.35 303.11L655.01 302.12L654.68 301.12L654.36 300.12L654.05 299.13L653.74 298.13L653.43 297.13L653.14 296.13L652.87 295.14L652.63 294.14L652.4 293.14L652.18 292.15L651.98 291.15L651.79 290.15L651.6 289.16L651.42 288.16L651.24 287.16L651.08 286.16L650.93 285.17L650.77 284.17L650.62 283.17L650.46 282.18L650.3 281.18L650.12 280.18L649.93 279.19L649.74 278.19L649.54 277.19L649.33 276.19L649.12 275.2L648.89 274.2L648.66 273.2L648.41 272.21L648.16 271.21L647.89 270.21L647.62 269.22L647.34 268.22L647.05 267.22L646.76 266.22L646.45 265.23L646.14 264.23L645.82 263.23L645.49 262.24L645.15 261.24Z" fill="#7570B3" fill-opacity="0.5" stroke="#111" stroke-width="1.05" stroke-linejoin="round"/>
<g fill="#000" fill-opacity="0.25" stroke="#000" stroke-opacity="0.25" stroke-width="0.7">
<circle cx="484.56" cy="257.15" r="2.4"/>
<circle cx="479.04" cy="265.69" r="2.4"/>
<circle cx="476.81" cy="274.89" r="2.4"/>
<circle cx="483.91" cy="287.11" r="2.4"/>
<circle cx="476.02" cy="296.83" r="2.4"/>
<circle cx="466.96" cy="309.71" r="2.4"/>
<circle cx="476.15" cy="315.62" r="2.4"/>
<circle cx="491.53" cy="316.67" r="2.4"/>
<circle cx="470.24" cy="328.5" r="2.4"/>
<circle cx="494.81" cy="326.39" r="2.4"/>
<circle cx="493.89" cy="332.44" r="2.4"/>
<circle cx="470.5" cy="335.72" r="2.4"/>
<circle cx="467.22" cy="337.56" r="2.4"/>
<circle cx="473.79" cy="337.69" r="2.4"/>
<circle cx="487.32" cy="337.96" r="2.4"/>
<circle cx="490.21" cy="337.3" r="2.4"/>
<circle cx="475.5" cy="342.56" r="2.4"/>
<circle cx="479.44" cy="344.26" r="2.4"/>
<circle cx="486.53" cy="345.18" r="2.4"/>
<circle cx="489.16" cy="345.18" r="2.4"/>
<circle cx="494.15" cy="341.24" r="2.4"/>
<circle cx="481.28" cy="349.78" r="2.4"/>
<circle cx="479.7" cy="355.3" r="2.4"/>
<circle cx="468.93" cy="353.33" r="2.4"/>
<circle cx="469.85" cy="358.32" r="2.4"/>
<circle cx="495.73" cy="355.69" r="2.4"/>
<circle cx="496.78" cy="364.23" r="2.4"/>
<circle cx="468.93" cy="366.6" r="2.4"/>
<circle cx="471.82" cy="370.54" r="2.4"/>
</g>
<g fill="#000" fill-opacity="0.25" stroke="#000" stroke-opacity="0.25" stroke-width="0.7">
<circle cx="557.31" cy="258.21" r="2.4"/>
<circle cx="559.67" cy="259.12" r="2.4"/>
<circle cx="561.64" cy="259.12" r="2.4"/>
<circle cx="569.53" cy="257.15" r="2.4"/>
<circle cx="546.8" cy="271.34" r="2.4"/>
<circle cx="556.78" cy="273.31" r="2.4"/>
<circle cx="561.25" cy="271.61" r="2.4"/>
<circle cx="572.81" cy="278.44" r="2.4"/>
<circle cx="574.52" cy="278.18" r="2.4"/>
<circle cx="572.81" cy="285.01" r="2.4"/>
<circle cx="557.7" cy="296.83" r="2.4"/>
<circle cx="572.42" cy="298.54" r="2.4"/>
<circle cx="548.77" cy="305.77" r="2.4"/>
<circle cx="554.02" cy="305.77" r="2.4"/>
<circle cx="572.81" cy="308.79" r="2.4"/>
<circle cx="559.67" cy="318.25" r="2.4"/>
<circle cx="568.47" cy="326.53" r="2.4"/>
<circle cx="555.34" cy="330.73" r="2.4"/>
<circle cx="566.24" cy="332.44" r="2.4"/>
<circle cx="569.53" cy="330.07" r="2.4"/>
<circle cx="572.15" cy="331.39" r="2.4"/>
<circle cx="566.9" cy="337.3" r="2.4"/>
<circle cx="574.12" cy="337.96" r="2.4"/>
<circle cx="547.85" cy="339.66" r="2.4"/>
<circle cx="549.16" cy="343.61" r="2.4"/>
<circle cx="567.16" cy="345.58" r="2.4"/>
<circle cx="570.58" cy="344.92" r="2.4"/>
<circle cx="551.53" cy="352.02" r="2.4"/>
</g>
<g fill="#000" fill-opacity="0.25" stroke="#000" stroke-opacity="0.25" stroke-width="0.7">
<circle cx="639.91" cy="257.15" r="2.4"/>
<circle cx="650.81" cy="259.78" r="2.4"/>
<circle cx="622.56" cy="277.12" r="2.4"/>
<circle cx="623.22" cy="278.44" r="2.4"/>
<circle cx="629.39" cy="290.39" r="2.4"/>
<circle cx="637.01" cy="290.66" r="2.4"/>
<circle cx="641.88" cy="287.11" r="2.4"/>
<circle cx="642.01" cy="304.19" r="2.4"/>
<circle cx="651.73" cy="303.8" r="2.4"/>
<circle cx="626.77" cy="310.63" r="2.4"/>
<circle cx="622.96" cy="312.6" r="2.4"/>
<circle cx="622.17" cy="314.31" r="2.4"/>
<circle cx="647.53" cy="312.6" r="2.4"/>
<circle cx="644.5" cy="316.94" r="2.4"/>
<circle cx="626.9" cy="322.58" r="2.4"/>
<circle cx="635.31" cy="324.42" r="2.4"/>
<circle cx="631.36" cy="330.47" r="2.4"/>
<circle cx="638.33" cy="332.44" r="2.4"/>
<circle cx="623.88" cy="343.61" r="2.4"/>
<circle cx="638.99" cy="344.79" r="2.4"/>
<circle cx="637.28" cy="349.12" r="2.4"/>
<circle cx="626.24" cy="356.35" r="2.4"/>
<circle cx="643.32" cy="356.09" r="2.4"/>
<circle cx="648.84" cy="354.38" r="2.4"/>
<circle cx="649.5" cy="355.69" r="2.4"/>
<circle cx="646.87" cy="362.66" r="2.4"/>
</g>
<path d="M481.97 319.96V341.64M466.41 319.96H497.52M466.41 341.64H497.52" stroke="#000" stroke-width="2.05" fill="none"/>
<circle cx="481.97" cy="330.99" r="4.7" fill="#000"/>
<path d="M559.75 293.68V316.02M544.19 293.68H575.31M544.19 316.02H575.31" stroke="#000" stroke-width="2.05" fill="none"/>
<circle cx="559.75" cy="304.85" r="4.7" fill="#000"/>
<path d="M637.53 306.42V329.81M621.98 306.42H653.09M621.98 329.81H653.09" stroke="#000" stroke-width="2.05" fill="none"/>
<circle cx="637.53" cy="317.99" r="4.7" fill="#000"/>
<path d="M481.97 246.21V242.61H559.75V246.21" stroke="#000" stroke-width="1.65" fill="none"/>
<text x="520.86" y="240.01" font-size="13.5" fill="#000" text-anchor="middle">**</text>
</g>
<g>
<path d="M112 584.99H353.6M112 571.78H353.6M112 558.57H353.6M112 545.36H353.6M112 532.14H353.6M112 518.94H353.6M112 505.73H353.6M112 492.52H353.6M112 479.31H353.6M112 466.1H353.6M112 452.89H353.6M112 439.68H353.6M112 433.07H353.6" stroke="#eaeaea" stroke-width="0.7" fill="none"/>
<path d="M112 578.38H353.6M112 565.17H353.6M112 551.96H353.6M112 538.75H353.6M112 525.54H353.6M112 512.33H353.6M112 499.12H353.6M112 485.91H353.6M112 472.7H353.6M112 459.49H353.6M112 446.28H353.6M157.3 425.8V585.65M232.8 425.8V585.65M308.3 425.8V585.65" stroke="#e7e7e7" stroke-width="1.35" fill="none"/>
<g font-size="10.9" fill="#4d4d4d" text-anchor="end">
<text x="105.8" y="582.38">(Very Low) 1</text>
<text x="105.8" y="569.17">2</text>
<text x="105.8" y="555.96">3</text>
<text x="105.8" y="542.75">4</text>
<text x="105.8" y="529.54">5</text>
<text x="105.8" y="516.33">6</text>
<text x="105.8" y="503.12">7</text>
<text x="105.8" y="489.91">8</text>
<text x="105.8" y="476.7">9</text>
<text x="105.8" y="463.49">10</text>
<text x="105.8" y="450.28">(Very High) 11</text>
</g>
<g font-size="10.9" fill="#4d4d4d" text-anchor="middle">
<text x="157.3" y="599.88">Physical</text>
<text x="232.8" y="599.88">Virtual</text>
<text x="308.3" y="599.88">MR</text>
</g>
<text x="232.8" y="435.08" font-size="16.2" fill="#000" text-anchor="middle">Effort</text>
<path d="M149.75 499.12L149.55 500.11L149.35 501.1L149.15 502.09L148.95 503.08L148.75 504.07L148.55 505.06L148.36 506.06L148.17 507.05L147.99 508.04L147.81 509.03L147.62 510.02L147.41 511.01L147.18 512L146.91 512.99L146.59 513.98L146.23 514.97L145.85 515.96L145.45 516.95L145.04 517.94L144.64 518.94L144.23 519.93L143.8 520.92L143.37 521.91L142.93 522.9L142.49 523.89L142.07 524.88L141.67 525.87L141.27 526.86L140.87 527.85L140.49 528.84L140.11 529.83L139.75 530.82L139.41 531.81L139.09 532.81L138.78 533.8L138.49 534.79L138.2 535.78L137.93 536.77L137.66 537.76L137.4 538.75L137.15 539.74L136.9 540.73L136.65 541.72L136.42 542.71L136.21 543.7L136.02 544.69L135.85 545.69L135.71 546.68L135.57 547.67L135.44 548.66L135.33 549.65L135.21 550.64L135.1 551.63L134.99 552.62L134.87 553.61L134.76 554.6L134.65 555.59L134.56 556.58L134.48 557.57L134.42 558.57L134.36 559.56L134.31 560.55L134.26 561.54L134.22 562.53L134.19 563.52L134.18 564.51L134.19 565.5L134.26 566.49L134.38 567.48L134.54 568.47L134.73 569.46L134.95 570.45L135.18 571.44L135.49 572.44L135.91 573.43L136.43 574.42L137.04 575.41L137.72 576.4L138.45 577.39L139.23 578.38L175.37 578.38L176.15 577.39L176.88 576.4L177.56 575.41L178.17 574.42L178.69 573.43L179.11 572.44L179.42 571.44L179.65 570.45L179.87 569.46L180.06 568.47L180.22 567.48L180.34 566.49L180.41 565.5L180.42 564.51L180.41 563.52L180.38 562.53L180.34 561.54L180.29 560.55L180.24 559.56L180.18 558.57L180.12 557.57L180.04 556.58L179.95 555.59L179.84 554.6L179.73 553.61L179.61 552.62L179.5 551.63L179.39 550.64L179.27 549.65L179.16 548.66L179.03 547.67L178.89 546.68L178.75 545.69L178.58 544.69L178.39 543.7L178.18 542.71L177.95 541.72L177.7 540.73L177.45 539.74L177.2 538.75L176.94 537.76L176.67 536.77L176.4 535.78L176.11 534.79L175.82 533.8L175.51 532.81L175.19 531.81L174.85 530.82L174.49 529.83L174.11 528.84L173.73 527.85L173.33 526.86L172.93 525.87L172.53 524.88L172.11 523.89L171.67 522.9L171.23 521.91L170.8 520.92L170.37 519.93L169.96 518.94L169.56 517.94L169.15 516.95L168.75 515.96L168.37 514.97L168.01 513.98L167.69 512.99L167.42 512L167.19 511.01L166.98 510.02L166.79 509.03L166.61 508.04L166.43 507.05L166.24 506.06L166.05 505.06L165.85 504.07L165.65 503.08L165.45 502.09L165.25 501.1L165.05 500.11L164.85 499.12Z" fill="#1B9E77" fill-opacity="0.5" stroke="#111" stroke-width="1.05" stroke-linejoin="round"/>
<path d="M228.6 485.91L228.18 486.9L227.79 487.9L227.43 488.89L227.11 489.89L226.85 490.88L226.65 491.88L226.52 492.87L226.41 493.86L226.32 494.86L226.23 495.85L226.17 496.85L226.12 497.84L226.1 498.84L226.12 499.83L226.19 500.82L226.3 501.82L226.45 502.81L226.6 503.81L226.76 504.8L226.9 505.8L227.06 506.79L227.26 507.78L227.45 508.78L227.64 509.77L227.78 510.77L227.86 511.76L227.87 512.76L227.87 513.75L227.87 514.74L227.87 515.74L227.87 516.73L227.87 517.73L227.87 518.72L227.8 519.72L227.57 520.71L227.21 521.7L226.77 522.7L226.26 523.69L225.74 524.69L225.22 525.68L224.64 526.68L223.96 527.67L223.21 528.66L222.39 529.66L221.52 530.65L220.61 531.65L219.64 532.64L218.54 533.64L217.33 534.63L216.07 535.63L214.77 536.62L213.47 537.61L212.2 538.61L210.91 539.6L209.55 540.6L208.18 541.59L206.84 542.59L205.58 543.58L204.43 544.57L203.42 545.57L202.35 546.56L201.29 547.56L200.3 548.55L199.47 549.55L198.89 550.54L198.64 551.53L198.64 552.53L198.64 553.52L198.64 554.52L198.67 555.51L199.11 556.51L199.85 557.5L200.6 558.49L201.4 559.49L202.32 560.48L203.29 561.48L204.3 562.47L205.29 563.47L206.22 564.46L207.08 565.45L207.92 566.45L208.74 567.44L209.54 568.44L210.32 569.43L211.08 570.43L211.81 571.42L212.52 572.41L213.21 573.41L213.89 574.4L214.54 575.4L215.17 576.39L215.79 577.39L216.38 578.38L249.22 578.38L249.81 577.39L250.43 576.39L251.06 575.4L251.71 574.4L252.39 573.41L253.08 572.41L253.79 571.42L254.52 570.43L255.28 569.43L256.06 568.44L256.86 567.44L257.68 566.45L258.52 565.45L259.38 564.46L260.31 563.47L261.3 562.47L262.31 561.48L263.28 560.48L264.2 559.49L265 558.49L265.75 557.5L266.49 556.51L266.93 555.51L266.96 554.52L266.96 553.52L266.96 552.53L266.96 551.53L266.71 550.54L266.13 549.55L265.3 548.55L264.31 547.56L263.25 546.56L262.18 545.57L261.17 544.57L260.02 543.58L258.76 542.59L257.42 541.59L256.05 540.6L254.69 539.6L253.4 538.61L252.13 537.61L250.83 536.62L249.53 535.63L248.27 534.63L247.06 533.64L245.96 532.64L244.99 531.65L244.08 530.65L243.21 529.66L242.39 528.66L241.64 527.67L240.96 526.68L240.38 525.68L239.86 524.69L239.34 523.69L238.83 522.7L238.39 521.7L238.03 520.71L237.8 519.72L237.73 518.72L237.73 517.73L237.73 516.73L237.73 515.74L237.73 514.74L237.73 513.75L237.73 512.76L237.74 511.76L237.82 510.77L237.96 509.77L238.15 508.78L238.34 507.78L238.54 506.79L238.7 505.8L238.84 504.8L239 503.81L239.15 502.81L239.3 501.82L239.41 500.82L239.48 499.83L239.5 498.84L239.48 497.84L239.43 496.85L239.37 495.85L239.28 494.86L239.19 493.86L239.08 492.87L238.95 491.88L238.75 490.88L238.49 489.89L238.17 488.89L237.81 487.9L237.42 486.9L237 485.91Z" fill="#D95F02" fill-opacity="0.5" stroke="#111" stroke-width="1.05" stroke-linejoin="round"/>
<path d="M305.87 472.7L305.78 473.7L305.69 474.69L305.58 475.69L305.47 476.69L305.35 477.68L305.22 478.68L305.09 479.68L304.95 480.68L304.81 481.67L304.65 482.67L304.48 483.67L304.3 484.66L304.1 485.66L303.87 486.66L303.61 487.65L303.32 488.65L303.01 489.65L302.68 490.65L302.35 491.64L302.03 492.64L301.7 493.64L301.36 494.63L301.02 495.63L300.66 496.63L300.3 497.62L299.94 498.62L299.57 499.62L299.19 500.62L298.81 501.61L298.42 502.61L298.02 503.61L297.62 504.6L297.23 505.6L296.83 506.6L296.43 507.59L296.02 508.59L295.62 509.59L295.22 510.59L294.83 511.58L294.45 512.58L294.08 513.58L293.71 514.57L293.35 515.57L293 516.57L292.65 517.56L292.3 518.56L291.94 519.56L291.58 520.56L291.22 521.55L290.87 522.55L290.52 523.55L290.18 524.54L289.86 525.54L289.55 526.54L289.24 527.53L288.95 528.53L288.66 529.53L288.39 530.52L288.12 531.52L287.85 532.52L287.6 533.52L287.35 534.51L287.11 535.51L286.88 536.51L286.65 537.5L286.43 538.5L286.21 539.5L285.99 540.49L285.78 541.49L285.57 542.49L285.38 543.49L285.21 544.48L285.05 545.48L284.89 546.48L284.73 547.47L284.58 548.47L284.45 549.47L284.36 550.46L284.32 551.46L284.33 552.46L284.37 553.46L284.43 554.45L284.52 555.45L284.62 556.45L284.74 557.44L284.88 558.44L285.12 559.44L285.49 560.43L285.95 561.43L286.47 562.43L287.03 563.43L287.59 564.42L288.15 565.42L288.78 566.42L289.46 567.41L290.18 568.41L290.91 569.41L291.64 570.4L292.36 571.4L293.06 572.4L293.76 573.4L294.47 574.39L295.18 575.39L295.89 576.39L296.61 577.38L297.33 578.38L319.27 578.38L319.99 577.38L320.71 576.39L321.42 575.39L322.13 574.39L322.84 573.4L323.54 572.4L324.24 571.4L324.96 570.4L325.69 569.41L326.42 568.41L327.14 567.41L327.82 566.42L328.45 565.42L329.01 564.42L329.57 563.43L330.13 562.43L330.65 561.43L331.11 560.43L331.48 559.44L331.72 558.44L331.86 557.44L331.98 556.45L332.08 555.45L332.17 554.45L332.23 553.46L332.27 552.46L332.28 551.46L332.24 550.46L332.15 549.47L332.02 548.47L331.87 547.47L331.71 546.48L331.55 545.48L331.39 544.48L331.22 543.49L331.03 542.49L330.82 541.49L330.61 540.49L330.39 539.5L330.17 538.5L329.95 537.5L329.72 536.51L329.49 535.51L329.25 534.51L329 533.52L328.75 532.52L328.48 531.52L328.21 530.52L327.94 529.53L327.65 528.53L327.36 527.53L327.05 526.54L326.74 525.54L326.42 524.54L326.08 523.55L325.73 522.55L325.38 521.55L325.02 520.56L324.66 519.56L324.3 518.56L323.95 517.56L323.6 516.57L323.25 515.57L322.89 514.57L322.52 513.58L322.15 512.58L321.77 511.58L321.38 510.59L320.98 509.59L320.58 508.59L320.17 507.59L319.77 506.6L319.37 505.6L318.98 504.6L318.58 503.61L318.18 502.61L317.79 501.61L317.41 500.62L317.03 499.62L316.66 498.62L316.3 497.62L315.94 496.63L315.58 495.63L315.24 494.63L314.9 493.64L314.57 492.64L314.25 491.64L313.92 490.65L313.59 489.65L313.28 488.65L312.99 487.65L312.73 486.66L312.5 485.66L312.3 484.66L312.12 483.67L311.95 482.67L311.79 481.67L311.65 480.68L311.51 479.68L311.38 478.68L311.25 477.68L311.13 476.69L311.02 475.69L310.91 474.69L310.82 473.7L310.73 472.7Z" fill="#7570B3" fill-opacity="0.5" stroke="#111" stroke-width="1.05" stroke-linejoin="round"/>
<g fill="#000" fill-opacity="0.25" stroke="#000" stroke-opacity="0.25" stroke-width="0.7">
<circle cx="144.85" cy="496.09" r="2.4"/>
<circle cx="149.18" cy="499.77" r="2.4"/>
<circle cx="163.5" cy="499.77" r="2.4"/>
<circle cx="150.76" cy="509.23" r="2.4"/>
<circle cx="170.73" cy="520.66" r="2.4"/>
<circle cx="165.61" cy="523.94" r="2.4"/>
<circle cx="150.76" cy="530.25" r="2.4"/>
<circle cx="171.39" cy="529.85" r="2.4"/>
<circle cx="147.47" cy="536.16" r="2.4"/>
<circle cx="156.28" cy="536.42" r="2.4"/>
<circle cx="162.58" cy="543.39" r="2.4"/>
<circle cx="165.47" cy="542.34" r="2.4"/>
<circle cx="147.47" cy="551.66" r="2.4"/>
<circle cx="161.66" cy="550.22" r="2.4"/>
<circle cx="155.09" cy="553.9" r="2.4"/>
<circle cx="161.93" cy="557.58" r="2.4"/>
<circle cx="157.59" cy="563.75" r="2.4"/>
<circle cx="168.23" cy="563.1" r="2.4"/>
<circle cx="145.77" cy="565.72" r="2.4"/>
<circle cx="164.95" cy="567.69" r="2.4"/>
<circle cx="155.75" cy="569.66" r="2.4"/>
<circle cx="148.39" cy="570.58" r="2.4"/>
<circle cx="169.15" cy="573.34" r="2.4"/>
<circle cx="157.33" cy="579.91" r="2.4"/>
<circle cx="142.22" cy="582.41" r="2.4"/>
<circle cx="155.36" cy="582.8" r="2.4"/>
<circle cx="163.5" cy="583.46" r="2.4"/>
<circle cx="171.39" cy="582.54" r="2.4"/>
</g>
<g fill="#000" fill-opacity="0.25" stroke="#000" stroke-opacity="0.25" stroke-width="0.7">
<circle cx="234.04" cy="482.29" r="2.4"/>
<circle cx="243.1" cy="495.43" r="2.4"/>
<circle cx="247.7" cy="494.38" r="2.4"/>
<circle cx="241.79" cy="508.31" r="2.4"/>
<circle cx="227.73" cy="527.62" r="2.4"/>
<circle cx="222.47" cy="535.5" r="2.4"/>
<circle cx="224.45" cy="536.82" r="2.4"/>
<circle cx="233.38" cy="537.48" r="2.4"/>
<circle cx="242.84" cy="535.11" r="2.4"/>
<circle cx="244.42" cy="546.67" r="2.4"/>
<circle cx="225.1" cy="549.3" r="2.4"/>
<circle cx="224.18" cy="550.61" r="2.4"/>
<circle cx="222.47" cy="553.24" r="2.4"/>
<circle cx="242.84" cy="551.27" r="2.4"/>
<circle cx="246.39" cy="553.5" r="2.4"/>
<circle cx="237.58" cy="553.9" r="2.4"/>
<circle cx="229.04" cy="556.53" r="2.4"/>
<circle cx="221.82" cy="557.84" r="2.4"/>
<circle cx="228.12" cy="561.52" r="2.4"/>
<circle cx="232.59" cy="562.7" r="2.4"/>
<circle cx="236.53" cy="561.39" r="2.4"/>
<circle cx="240.21" cy="567.69" r="2.4"/>
<circle cx="247.44" cy="569.4" r="2.4"/>
<circle cx="244.42" cy="574.92" r="2.4"/>
<circle cx="225.5" cy="575.58" r="2.4"/>
<circle cx="226.42" cy="579.91" r="2.4"/>
<circle cx="229.04" cy="582.8" r="2.4"/>
<circle cx="244.15" cy="580.83" r="2.4"/>
</g>
<g fill="#000" fill-opacity="0.25" stroke="#000" stroke-opacity="0.25" stroke-width="0.7">
<circle cx="322.12" cy="474.15" r="2.4"/>
<circle cx="305.44" cy="504.37" r="2.4"/>
<circle cx="309.64" cy="502.26" r="2.4"/>
<circle cx="322.52" cy="510.54" r="2.4"/>
<circle cx="314.64" cy="512.91" r="2.4"/>
<circle cx="294.8" cy="527.23" r="2.4"/>
<circle cx="297.82" cy="526.96" r="2.4"/>
<circle cx="320.42" cy="528.94" r="2.4"/>
<circle cx="299.13" cy="530.91" r="2.4"/>
<circle cx="313.32" cy="534.58" r="2.4"/>
<circle cx="317.13" cy="536.82" r="2.4"/>
<circle cx="297.16" cy="543.78" r="2.4"/>
<circle cx="317.53" cy="546.67" r="2.4"/>
<circle cx="310.96" cy="547.99" r="2.4"/>
<circle cx="301.76" cy="549.3" r="2.4"/>
<circle cx="318.84" cy="549.3" r="2.4"/>
<circle cx="323.44" cy="551.27" r="2.4"/>
<circle cx="314.9" cy="554.16" r="2.4"/>
<circle cx="298.21" cy="560.21" r="2.4"/>
<circle cx="314.24" cy="561.12" r="2.4"/>
<circle cx="296.5" cy="564.41" r="2.4"/>
<circle cx="307.67" cy="563.1" r="2.4"/>
<circle cx="306.75" cy="565.46" r="2.4"/>
<circle cx="297.55" cy="570.32" r="2.4"/>
<circle cx="293.48" cy="574.92" r="2.4"/>
<circle cx="313.58" cy="581.75" r="2.4"/>
</g>
<path d="M157.3 538.26V557.18M142.2 538.26H172.4M142.2 557.18H172.4" stroke="#000" stroke-width="2.05" fill="none"/>
<circle cx="157.3" cy="547.59" r="4.7" fill="#000"/>
<path d="M232.8 540.1V557.84M217.7 540.1H247.9M217.7 557.84H247.9" stroke="#000" stroke-width="2.05" fill="none"/>
<circle cx="232.8" cy="549.04" r="4.7" fill="#000"/>
<path d="M308.3 530.91V550.88M293.2 530.91H323.4M293.2 550.88H323.4" stroke="#000" stroke-width="2.05" fill="none"/>
<circle cx="308.3" cy="540.76" r="4.7" fill="#000"/>
</g>
<g>
<path d="M442.5 584.99H684.2M442.5 571.78H684.2M442.5 558.57H684.2M442.5 545.36H684.2M442.5 532.14H684.2M442.5 518.94H684.2M442.5 505.73H684.2M442.5 492.52H684.2M442.5 479.31H684.2M442.5 466.1H684.2M442.5 452.89H684.2M442.5 439.68H684.2M442.5 433.07H684.2" stroke="#eaeaea" stroke-width="0.7" fill="none"/>
<path d="M442.5 578.38H684.2M442.5 565.17H684.2M442.5 551.96H684.2M442.5 538.75H684.2M442.5 525.54H684.2M442.5 512.33H684.2M442.5 499.12H684.2M442.5 485.91H684.2M442.5 472.7H684.2M442.5 459.49H684.2M442.5 446.28H684.2M487.82 425.8V585.65M563.35 425.8V585.65M638.88 425.8V585.65" stroke="#e7e7e7" stroke-width="1.35" fill="none"/>
<g font-size="10.9" fill="#4d4d4d" text-anchor="end">
<text x="436.3" y="582.38">(Very Low) 1</text>
<text x="436.3" y="569.17">2</text>
<text x="436.3" y="555.96">3</text>
<text x="436.3" y="542.75">4</text>
<text x="436.3" y="529.54">5</text>
<text x="436.3" y="516.33">6</text>
<text x="436.3" y="503.12">7</text>
<text x="436.3" y="489.91">8</text>
<text x="436.3" y="476.7">9</text>
<text x="436.3" y="463.49">10</text>
<text x="436.3" y="450.28">(Very High) 11</text>
</g>
<g font-size="10.9" fill="#4d4d4d" text-anchor="middle">
<text x="487.82" y="599.88">Physical</text>
<text x="563.35" y="599.88">Virtual</text>
<text x="638.88" y="599.88">MR</text>
</g>
<text x="563.35" y="435.08" font-size="16.2" fill="#000" text-anchor="middle">Frustration</text>
<path d="M484.53 459.49L484.42 460.49L484.34 461.49L484.28 462.49L484.24 463.49L484.22 464.49L484.21 465.48L484.21 466.48L484.25 467.48L484.33 468.48L484.43 469.48L484.56 470.48L484.69 471.48L484.83 472.48L484.98 473.48L485.16 474.48L485.37 475.48L485.59 476.47L485.82 477.47L486.03 478.47L486.21 479.47L486.4 480.47L486.59 481.47L486.78 482.47L486.95 483.47L487.09 484.47L487.19 485.47L487.25 486.47L487.3 487.46L487.34 488.46L487.37 489.46L487.4 490.46L487.42 491.46L487.42 492.46L487.42 493.46L487.42 494.46L487.42 495.46L487.42 496.46L487.42 497.45L487.42 498.45L487.42 499.45L487.41 500.45L487.39 501.45L487.35 502.45L487.3 503.45L487.24 504.45L487.18 505.45L487.07 506.45L486.87 507.45L486.58 508.44L486.22 509.44L485.82 510.44L485.4 511.44L484.98 512.44L484.45 513.44L483.82 514.44L483.14 515.44L482.44 516.44L481.79 517.44L481.23 518.44L480.78 519.43L480.34 520.43L479.92 521.43L479.54 522.43L479.21 523.43L478.97 524.43L478.81 525.43L478.72 526.43L478.65 527.43L478.59 528.43L478.54 529.43L478.49 530.42L478.45 531.42L478.4 532.42L478.37 533.42L478.34 534.42L478.31 535.42L478.28 536.42L478.23 537.42L478.17 538.42L478 539.42L477.62 540.42L477.08 541.41L476.42 542.41L475.7 543.41L474.97 544.41L474.26 545.41L473.52 546.41L472.71 547.41L471.84 548.41L470.91 549.41L469.93 550.41L468.91 551.4L467.8 552.4L466.53 553.4L465.15 554.4L463.73 555.4L462.34 556.4L461.05 557.4L459.92 558.4L458.83 559.4L457.73 560.4L456.68 561.4L455.74 562.39L454.94 563.39L454.35 564.39L453.97 565.39L453.65 566.39L453.42 567.39L453.33 568.39L453.62 569.39L454.3 570.39L455.17 571.39L456.03 572.39L456.9 573.38L457.85 574.38L458.9 575.38L460.03 576.38L461.24 577.38L462.53 578.38L513.11 578.38L514.4 577.38L515.61 576.38L516.74 575.38L517.78 574.38L518.74 573.38L519.6 572.39L520.47 571.39L521.34 570.39L522.02 569.39L522.31 568.39L522.22 567.39L521.99 566.39L521.66 565.39L521.28 564.39L520.69 563.39L519.9 562.39L518.95 561.4L517.9 560.4L516.81 559.4L515.72 558.4L514.58 557.4L513.29 556.4L511.91 555.4L510.49 554.4L509.11 553.4L507.84 552.4L506.73 551.4L505.7 550.41L504.73 549.41L503.8 548.41L502.93 547.41L502.12 546.41L501.37 545.41L500.67 544.41L499.94 543.41L499.22 542.41L498.56 541.41L498.02 540.42L497.64 539.42L497.47 538.42L497.41 537.42L497.36 536.42L497.33 535.42L497.3 534.42L497.27 533.42L497.23 532.42L497.19 531.42L497.14 530.42L497.1 529.43L497.05 528.43L496.99 527.43L496.91 526.43L496.82 525.43L496.67 524.43L496.42 523.43L496.1 522.43L495.71 521.43L495.29 520.43L494.86 519.43L494.41 518.44L493.85 517.44L493.2 516.44L492.5 515.44L491.81 514.44L491.18 513.44L490.66 512.44L490.24 511.44L489.82 510.44L489.42 509.44L489.06 508.44L488.77 507.45L488.56 506.45L488.46 505.45L488.39 504.45L488.34 503.45L488.29 502.45L488.25 501.45L488.23 500.45L488.21 499.45L488.21 498.45L488.21 497.45L488.21 496.46L488.21 495.46L488.21 494.46L488.21 493.46L488.21 492.46L488.22 491.46L488.24 490.46L488.26 489.46L488.3 488.46L488.34 487.46L488.39 486.47L488.44 485.47L488.54 484.47L488.69 483.47L488.86 482.47L489.05 481.47L489.24 480.47L489.43 479.47L489.61 478.47L489.82 477.47L490.04 476.47L490.27 475.48L490.47 474.48L490.66 473.48L490.8 472.48L490.94 471.48L491.08 470.48L491.21 469.48L491.31 468.48L491.39 467.48L491.43 466.48L491.43 465.48L491.42 464.49L491.4 463.49L491.36 462.49L491.3 461.49L491.21 460.49L491.1 459.49Z" fill="#1B9E77" fill-opacity="0.5" stroke="#111" stroke-width="1.05" stroke-linejoin="round"/>
<path d="M557.44 472.7L557.22 473.7L557.01 474.69L556.8 475.69L556.6 476.69L556.41 477.68L556.23 478.68L556.05 479.68L555.86 480.68L555.68 481.67L555.5 482.67L555.33 483.67L555.19 484.66L555.09 485.66L555.03 486.66L554.98 487.65L554.94 488.65L554.91 489.65L554.88 490.65L554.84 491.64L554.81 492.64L554.76 493.64L554.71 494.63L554.66 495.63L554.61 496.63L554.57 497.62L554.55 498.62L554.55 499.62L554.55 500.62L554.55 501.61L554.55 502.61L554.55 503.61L554.55 504.6L554.55 505.6L554.56 506.6L554.58 507.59L554.62 508.59L554.67 509.59L554.73 510.59L554.78 511.58L554.83 512.58L554.88 513.58L554.95 514.57L555.01 515.57L555.07 516.57L555.12 517.56L555.14 518.56L555.13 519.56L555.11 520.56L555.07 521.55L555.02 522.55L554.95 523.55L554.88 524.54L554.8 525.54L554.67 526.54L554.48 527.53L554.25 528.53L553.99 529.53L553.73 530.52L553.47 531.52L553.23 532.52L552.99 533.52L552.74 534.51L552.49 535.51L552.23 536.51L551.98 537.5L551.73 538.5L551.48 539.5L551.23 540.49L550.98 541.49L550.74 542.49L550.49 543.49L550.24 544.48L549.98 545.48L549.71 546.48L549.43 547.47L549.15 548.47L548.88 549.47L548.63 550.46L548.41 551.46L548.22 552.46L548.04 553.46L547.87 554.45L547.71 555.45L547.57 556.45L547.46 557.44L547.37 558.44L547.3 559.44L547.23 560.43L547.17 561.43L547.11 562.43L547.08 563.43L547.06 564.42L547.06 565.42L547.1 566.42L547.17 567.41L547.25 568.41L547.35 569.41L547.47 570.4L547.59 571.4L547.73 572.4L547.92 573.4L548.15 574.39L548.42 575.39L548.71 576.39L549.02 577.38L549.36 578.38L577.34 578.38L577.68 577.38L577.99 576.39L578.28 575.39L578.55 574.39L578.78 573.4L578.97 572.4L579.11 571.4L579.23 570.4L579.35 569.41L579.45 568.41L579.53 567.41L579.6 566.42L579.64 565.42L579.64 564.42L579.62 563.43L579.59 562.43L579.53 561.43L579.47 560.43L579.4 559.44L579.33 558.44L579.24 557.44L579.13 556.45L578.99 555.45L578.83 554.45L578.66 553.46L578.48 552.46L578.29 551.46L578.07 550.46L577.82 549.47L577.55 548.47L577.27 547.47L576.99 546.48L576.72 545.48L576.46 544.48L576.21 543.49L575.96 542.49L575.72 541.49L575.47 540.49L575.22 539.5L574.97 538.5L574.72 537.5L574.47 536.51L574.21 535.51L573.96 534.51L573.71 533.52L573.47 532.52L573.23 531.52L572.97 530.52L572.71 529.53L572.45 528.53L572.22 527.53L572.03 526.54L571.9 525.54L571.82 524.54L571.75 523.55L571.68 522.55L571.63 521.55L571.59 520.56L571.57 519.56L571.56 518.56L571.58 517.56L571.63 516.57L571.69 515.57L571.75 514.57L571.82 513.58L571.87 512.58L571.92 511.58L571.97 510.59L572.03 509.59L572.08 508.59L572.12 507.59L572.14 506.6L572.15 505.6L572.15 504.6L572.15 503.61L572.15 502.61L572.15 501.61L572.15 500.62L572.15 499.62L572.15 498.62L572.13 497.62L572.09 496.63L572.04 495.63L571.99 494.63L571.94 493.64L571.89 492.64L571.86 491.64L571.82 490.65L571.79 489.65L571.76 488.65L571.72 487.65L571.67 486.66L571.61 485.66L571.51 484.66L571.37 483.67L571.2 482.67L571.02 481.67L570.84 480.68L570.65 479.68L570.47 478.68L570.29 477.68L570.1 476.69L569.9 475.69L569.69 474.69L569.48 473.7L569.26 472.7Z" fill="#D95F02" fill-opacity="0.5" stroke="#111" stroke-width="1.05" stroke-linejoin="round"/>
<path d="M635.6 485.91L635.47 486.9L635.35 487.9L635.24 488.89L635.15 489.89L635.07 490.88L635.02 491.88L635 492.87L634.98 493.86L634.97 494.86L634.96 495.85L634.95 496.85L634.94 497.84L634.94 498.84L634.95 499.83L634.99 500.82L635.06 501.82L635.14 502.81L635.23 503.81L635.32 504.8L635.41 505.8L635.5 506.79L635.59 507.78L635.69 508.78L635.8 509.77L635.9 510.77L636.01 511.76L636.11 512.76L636.23 513.75L636.36 514.74L636.49 515.74L636.6 516.73L636.68 517.73L636.71 518.72L636.69 519.72L636.63 520.71L636.53 521.7L636.4 522.7L636.24 523.69L636.06 524.69L635.86 525.68L635.54 526.68L635.09 527.67L634.54 528.66L633.93 529.66L633.31 530.65L632.69 531.65L632.1 532.64L631.48 533.64L630.83 534.63L630.16 535.63L629.48 536.62L628.8 537.61L628.12 538.61L627.43 539.6L626.72 540.6L626 541.59L625.29 542.59L624.59 543.58L623.91 544.57L623.27 545.57L622.64 546.56L622.01 547.56L621.41 548.55L620.82 549.55L620.27 550.54L619.76 551.53L619.3 552.53L618.88 553.52L618.49 554.52L618.11 555.51L617.73 556.51L617.32 557.5L616.89 558.49L616.44 559.49L615.97 560.48L615.49 561.48L614.99 562.47L614.47 563.47L613.92 564.46L613.32 565.45L612.65 566.45L611.92 567.44L611.17 568.44L610.43 569.43L609.73 570.43L609.09 571.42L608.43 572.41L607.73 573.41L607.17 574.4L606.9 575.4L606.95 576.39L607.2 577.39L607.68 578.38L670.09 578.38L670.56 577.39L670.81 576.39L670.87 575.4L670.59 574.4L670.03 573.41L669.34 572.41L668.67 571.42L668.03 570.43L667.33 569.43L666.59 568.44L665.84 567.44L665.12 566.45L664.44 565.45L663.84 564.46L663.29 563.47L662.77 562.47L662.27 561.48L661.79 560.48L661.33 559.49L660.87 558.49L660.44 557.5L660.03 556.51L659.65 555.51L659.27 554.52L658.88 553.52L658.46 552.53L658 551.53L657.49 550.54L656.94 549.55L656.36 548.55L655.75 547.56L655.12 546.56L654.49 545.57L653.85 544.57L653.17 543.58L652.48 542.59L651.76 541.59L651.05 540.6L650.34 539.6L649.64 538.61L648.97 537.61L648.28 536.62L647.6 535.63L646.93 534.63L646.28 533.64L645.66 532.64L645.07 531.65L644.46 530.65L643.83 529.66L643.22 528.66L642.68 527.67L642.22 526.68L641.9 525.68L641.7 524.69L641.53 523.69L641.37 522.7L641.23 521.7L641.13 520.71L641.07 519.72L641.05 518.72L641.08 517.73L641.16 516.73L641.27 515.74L641.4 514.74L641.53 513.75L641.65 512.76L641.76 511.76L641.86 510.77L641.96 509.77L642.07 508.78L642.17 507.78L642.27 506.79L642.35 505.8L642.44 504.8L642.53 503.81L642.62 502.81L642.71 501.82L642.77 500.82L642.81 499.83L642.82 498.84L642.82 497.84L642.81 496.85L642.81 495.85L642.79 494.86L642.78 493.86L642.76 492.87L642.74 491.88L642.69 490.88L642.61 489.89L642.52 488.89L642.41 487.9L642.29 486.9L642.17 485.91Z" fill="#7570B3" fill-opacity="0.5" stroke="#111" stroke-width="1.05" stroke-linejoin="round"/>
<g fill="#000" fill-opacity="0.25" stroke="#000" stroke-opacity="0.25" stroke-width="0.7">
<circle cx="476.9" cy="461.53" r="2.4"/>
<circle cx="483.47" cy="472.44" r="2.4"/>
<circle cx="494.64" cy="524.07" r="2.4"/>
<circle cx="498.58" cy="524.99" r="2.4"/>
<circle cx="480.18" cy="528.67" r="2.4"/>
<circle cx="475.45" cy="542.34" r="2.4"/>
<circle cx="496.21" cy="544.04" r="2.4"/>
<circle cx="492.53" cy="550.88" r="2.4"/>
<circle cx="478.21" cy="552.58" r="2.4"/>
<circle cx="473.88" cy="554.16" r="2.4"/>
<circle cx="476.11" cy="560.73" r="2.4"/>
<circle cx="492.93" cy="560.73" r="2.4"/>
<circle cx="500.15" cy="560.47" r="2.4"/>
<circle cx="477.82" cy="563.75" r="2.4"/>
<circle cx="498.84" cy="563.75" r="2.4"/>
<circle cx="492.27" cy="568.09" r="2.4"/>
<circle cx="499.5" cy="570.32" r="2.4"/>
<circle cx="483.34" cy="576.23" r="2.4"/>
<circle cx="490.04" cy="577.15" r="2.4"/>
<circle cx="496.87" cy="576.23" r="2.4"/>
<circle cx="485.04" cy="582.15" r="2.4"/>
<circle cx="490.3" cy="581.49" r="2.4"/>
<circle cx="493.58" cy="581.23" r="2.4"/>
<circle cx="499.5" cy="582.41" r="2.4"/>
<circle cx="478.21" cy="583.46" r="2.4"/>
</g>
<g fill="#000" fill-opacity="0.25" stroke="#000" stroke-opacity="0.25" stroke-width="0.7">
<circle cx="553.47" cy="477.04" r="2.4"/>
<circle cx="560.44" cy="477.69" r="2.4"/>
<circle cx="566.61" cy="474.41" r="2.4"/>
<circle cx="562.67" cy="481.37" r="2.4"/>
<circle cx="562.67" cy="494.77" r="2.4"/>
<circle cx="571.21" cy="494.12" r="2.4"/>
<circle cx="570.55" cy="500.42" r="2.4"/>
<circle cx="574.23" cy="504.63" r="2.4"/>
<circle cx="569.5" cy="510.8" r="2.4"/>
<circle cx="576.47" cy="514.88" r="2.4"/>
<circle cx="550.45" cy="523.68" r="2.4"/>
<circle cx="550.19" cy="537.21" r="2.4"/>
<circle cx="553.47" cy="539.71" r="2.4"/>
<circle cx="574.76" cy="541.02" r="2.4"/>
<circle cx="567.01" cy="547.59" r="2.4"/>
<circle cx="574.5" cy="546.67" r="2.4"/>
<circle cx="547.96" cy="551.66" r="2.4"/>
<circle cx="564.38" cy="555.21" r="2.4"/>
<circle cx="557.81" cy="561.39" r="2.4"/>
<circle cx="552.16" cy="563.1" r="2.4"/>
<circle cx="553.47" cy="563.75" r="2.4"/>
<circle cx="571.87" cy="561.39" r="2.4"/>
<circle cx="571.21" cy="567.69" r="2.4"/>
<circle cx="557.42" cy="576.89" r="2.4"/>
<circle cx="560.7" cy="578.86" r="2.4"/>
<circle cx="571.21" cy="581.88" r="2.4"/>
<circle cx="575.15" cy="582.8" r="2.4"/>
</g>
<g fill="#000" fill-opacity="0.25" stroke="#000" stroke-opacity="0.25" stroke-width="0.7">
<circle cx="638.41" cy="483.87" r="2.4"/>
<circle cx="632.5" cy="499.37" r="2.4"/>
<circle cx="646.16" cy="516.19" r="2.4"/>
<circle cx="626.45" cy="539.71" r="2.4"/>
<circle cx="636.96" cy="542.47" r="2.4"/>
<circle cx="627.77" cy="547.59" r="2.4"/>
<circle cx="629.47" cy="552.58" r="2.4"/>
<circle cx="633.02" cy="552.58" r="2.4"/>
<circle cx="642.22" cy="552.19" r="2.4"/>
<circle cx="628.42" cy="555.48" r="2.4"/>
<circle cx="653.78" cy="563.1" r="2.4"/>
<circle cx="631.71" cy="565.99" r="2.4"/>
<circle cx="629.08" cy="570.32" r="2.4"/>
<circle cx="636.7" cy="569.66" r="2.4"/>
<circle cx="640.25" cy="574.92" r="2.4"/>
<circle cx="645.64" cy="574.92" r="2.4"/>
<circle cx="629.08" cy="577.15" r="2.4"/>
<circle cx="634.73" cy="576.63" r="2.4"/>
<circle cx="639.33" cy="578.21" r="2.4"/>
<circle cx="641.96" cy="579.52" r="2.4"/>
<circle cx="649.84" cy="579.52" r="2.4"/>
<circle cx="653.78" cy="580.18" r="2.4"/>
<circle cx="631.45" cy="582.15" r="2.4"/>
<circle cx="650.5" cy="580.83" r="2.4"/>
</g>
<path d="M487.82 544.04V565.72M472.71 544.04H502.93M472.71 565.72H502.93" stroke="#000" stroke-width="2.05" fill="none"/>
<circle cx="487.82" cy="554.82" r="4.7" fill="#000"/>
<path d="M563.35 524.6V552.19M548.24 524.6H578.46M548.24 552.19H578.46" stroke="#000" stroke-width="2.05" fill="none"/>
<circle cx="563.35" cy="538.53" r="4.7" fill="#000"/>
<path d="M638.88 549.3V568.75M623.77 549.3H653.99M623.77 568.75H653.99" stroke="#000" stroke-width="2.05" fill="none"/>
<circle cx="638.88" cy="559.15" r="4.7" fill="#000"/>
</g>
<g>
<path d="M112 796.45H353.6M112 783.24H353.6M112 770.02H353.6M112 756.82H353.6M112 743.61H353.6M112 730.39H353.6M112 717.19H353.6M112 703.98H353.6M112 690.76H353.6M112 677.56H353.6M112 664.35H353.6M112 651.13H353.6M112 644.53H353.6" stroke="#eaeaea" stroke-width="0.7" fill="none"/>
<path d="M112 789.84H353.6M112 776.63H353.6M112 763.42H353.6M112 750.21H353.6M112 737H353.6M112 723.79H353.6M112 710.58H353.6M112 697.37H353.6M112 684.16H353.6M112 670.95H353.6M112 657.74H353.6M157.3 637.26V797.11M232.8 637.26V797.11M308.3 637.26V797.11" stroke="#e7e7e7" stroke-width="1.35" fill="none"/>
<g font-size="10.9" fill="#4d4d4d" text-anchor="end">
<text x="105.8" y="793.84">(Very Low) 1</text>
<text x="105.8" y="780.63">2</text>
<text x="105.8" y="767.42">3</text>
<text x="105.8" y="754.21">4</text>
<text x="105.8" y="741">5</text>
<text x="105.8" y="727.79">6</text>
<text x="105.8" y="714.58">7</text>
<text x="105.8" y="701.37">8</text>
<text x="105.8" y="688.16">9</text>
<text x="105.8" y="674.95">10</text>
<text x="105.8" y="661.74">(Very High) 11</text>
</g>
<g font-size="10.9" fill="#4d4d4d" text-anchor="middle">
<text x="157.3" y="811.34">Physical</text>
<text x="232.8" y="811.34">Virtual</text>
<text x="308.3" y="811.34">MR</text>
</g>
<text x="232.8" y="646.54" font-size="16.2" fill="#000" text-anchor="middle">Overall Workload</text>
<path d="M154.48 697.37L154.73 698.36L154.99 699.36L155.28 700.35L155.58 701.35L155.97 702.34L156.38 703.34L156.63 704.33L156.71 705.32L156.78 706.32L156.83 707.31L156.87 708.31L156.9 709.3L156.91 710.3L156.91 711.29L156.91 712.28L156.91 713.28L156.91 714.27L156.89 715.27L156.69 716.26L156.35 717.26L155.98 718.25L155.71 719.24L155.45 720.24L155.19 721.23L154.98 722.23L154.88 723.22L154.88 724.22L154.93 725.21L154.99 726.2L155.07 727.2L155.14 728.19L155.22 729.19L155.3 730.18L155.37 731.18L155.39 732.17L155.39 733.16L155.38 734.16L155.36 735.15L155.34 736.15L155.3 737.14L155.15 738.14L154.92 739.13L154.65 740.12L154.38 741.12L154.1 742.11L153.77 743.11L153.41 744.1L153.07 745.1L152.76 746.09L152.48 747.09L152.21 748.08L151.94 749.07L151.68 750.07L151.45 751.06L151.24 752.06L151 753.05L150.67 754.05L150.13 755.04L149.12 756.03L147.84 757.03L146.52 758.02L145.12 759.02L143.52 760.01L142.64 761.01L142.42 762L142.32 762.99L142.32 763.99L142.32 764.98L142.32 765.98L142.24 766.97L141.94 767.97L141.45 768.96L139.67 769.95L136.66 770.95L133.5 771.94L130.46 772.94L127.07 773.93L124.45 774.93L123.42 775.92L123.01 776.91L123.67 777.91L125.38 778.9L127.9 779.9L132.36 780.89L136.63 781.89L139.77 782.88L142.42 783.87L143.69 784.87L144.26 785.86L144.6 786.86L144.8 787.85L144.95 788.85L145.02 789.84L169.58 789.84L169.65 788.85L169.8 787.85L170 786.86L170.34 785.86L170.91 784.87L172.18 783.87L174.83 782.88L177.97 781.89L182.24 780.89L186.7 779.9L189.22 778.9L190.93 777.91L191.59 776.91L191.18 775.92L190.15 774.93L187.53 773.93L184.14 772.94L181.1 771.94L177.94 770.95L174.93 769.95L173.15 768.96L172.66 767.97L172.36 766.97L172.28 765.98L172.28 764.98L172.28 763.99L172.28 762.99L172.18 762L171.96 761.01L171.08 760.01L169.48 759.02L168.08 758.02L166.76 757.03L165.48 756.03L164.47 755.04L163.93 754.05L163.6 753.05L163.36 752.06L163.15 751.06L162.92 750.07L162.66 749.07L162.39 748.08L162.12 747.09L161.84 746.09L161.53 745.1L161.19 744.1L160.83 743.11L160.5 742.11L160.22 741.12L159.95 740.12L159.68 739.13L159.45 738.14L159.3 737.14L159.26 736.15L159.24 735.15L159.22 734.16L159.21 733.16L159.21 732.17L159.23 731.18L159.3 730.18L159.38 729.19L159.46 728.19L159.53 727.2L159.61 726.2L159.67 725.21L159.72 724.22L159.72 723.22L159.62 722.23L159.41 721.23L159.15 720.24L158.89 719.24L158.62 718.25L158.25 717.26L157.91 716.26L157.71 715.27L157.69 714.27L157.69 713.28L157.69 712.28L157.69 711.29L157.69 710.3L157.7 709.3L157.73 708.31L157.77 707.31L157.82 706.32L157.89 705.32L157.97 704.33L158.22 703.34L158.63 702.34L159.02 701.35L159.32 700.35L159.61 699.36L159.87 698.36L160.12 697.37Z" fill="#1B9E77" fill-opacity="0.5" stroke="#111" stroke-width="1.05" stroke-linejoin="round"/>
<path d="M231.35 670.95L231.48 671.95L231.58 672.95L231.67 673.95L231.74 674.95L231.79 675.95L231.81 676.94L231.81 677.94L231.78 678.94L231.74 679.94L231.68 680.94L231.61 681.94L231.55 682.94L231.49 683.94L231.45 684.94L231.41 685.94L231.37 686.94L231.33 687.93L231.29 688.93L231.25 689.93L231.21 690.93L231.18 691.93L231.14 692.93L231.1 693.93L231.06 694.93L231.02 695.93L230.98 696.93L230.92 697.93L230.86 698.92L230.8 699.92L230.72 700.92L230.65 701.92L230.57 702.92L230.49 703.92L230.41 704.92L230.32 705.92L230.23 706.92L230.13 707.92L230.04 708.91L229.95 709.91L229.86 710.91L229.76 711.91L229.66 712.91L229.55 713.91L229.47 714.91L229.41 715.91L229.38 716.91L229.39 717.91L229.4 718.91L229.41 719.9L229.44 720.9L229.46 721.9L229.49 722.9L229.53 723.9L229.63 724.9L229.78 725.9L229.95 726.9L230.13 727.9L230.29 728.9L230.42 729.9L230.5 730.89L230.59 731.89L230.67 732.89L230.73 733.89L230.79 734.89L230.82 735.89L230.83 736.89L230.72 737.89L230.49 738.89L230.17 739.89L229.79 740.89L229.39 741.88L228.99 742.88L228.6 743.88L228.16 744.88L227.68 745.88L227.17 746.88L226.64 747.88L226.11 748.88L225.6 749.88L225.1 750.88L224.59 751.88L224.07 752.87L223.56 753.87L223.06 754.87L222.58 755.87L222.13 756.87L221.7 757.87L221.3 758.87L220.91 759.87L220.52 760.87L220.14 761.87L219.74 762.86L219.33 763.86L218.9 764.86L218.46 765.86L218.02 766.86L217.62 767.86L217.27 768.86L216.98 769.86L216.7 770.86L216.43 771.86L216.17 772.86L215.96 773.85L215.81 774.85L215.73 775.85L215.74 776.85L215.84 777.85L216 778.85L216.22 779.85L216.48 780.85L216.76 781.85L217.05 782.85L217.39 783.85L217.8 784.84L218.28 785.84L218.81 786.84L219.41 787.84L220.04 788.84L220.71 789.84L244.89 789.84L245.56 788.84L246.19 787.84L246.79 786.84L247.32 785.84L247.8 784.84L248.21 783.85L248.55 782.85L248.84 781.85L249.12 780.85L249.38 779.85L249.6 778.85L249.76 777.85L249.86 776.85L249.87 775.85L249.79 774.85L249.64 773.85L249.43 772.86L249.17 771.86L248.9 770.86L248.62 769.86L248.33 768.86L247.98 767.86L247.58 766.86L247.14 765.86L246.7 764.86L246.27 763.86L245.86 762.86L245.46 761.87L245.08 760.87L244.69 759.87L244.3 758.87L243.9 757.87L243.47 756.87L243.02 755.87L242.54 754.87L242.04 753.87L241.53 752.87L241.01 751.88L240.5 750.88L240 749.88L239.49 748.88L238.96 747.88L238.43 746.88L237.92 745.88L237.44 744.88L237 743.88L236.61 742.88L236.21 741.88L235.81 740.89L235.43 739.89L235.11 738.89L234.88 737.89L234.77 736.89L234.78 735.89L234.81 734.89L234.87 733.89L234.93 732.89L235.01 731.89L235.1 730.89L235.18 729.9L235.31 728.9L235.47 727.9L235.65 726.9L235.82 725.9L235.97 724.9L236.07 723.9L236.11 722.9L236.14 721.9L236.16 720.9L236.19 719.9L236.2 718.91L236.21 717.91L236.22 716.91L236.19 715.91L236.13 714.91L236.05 713.91L235.94 712.91L235.84 711.91L235.74 710.91L235.65 709.91L235.56 708.91L235.47 707.92L235.37 706.92L235.28 705.92L235.19 704.92L235.11 703.92L235.03 702.92L234.95 701.92L234.88 700.92L234.8 699.92L234.74 698.92L234.68 697.93L234.62 696.93L234.58 695.93L234.54 694.93L234.5 693.93L234.46 692.93L234.42 691.93L234.39 690.93L234.35 689.93L234.31 688.93L234.27 687.93L234.23 686.94L234.19 685.94L234.15 684.94L234.11 683.94L234.05 682.94L233.99 681.94L233.92 680.94L233.86 679.94L233.82 678.94L233.79 677.94L233.79 676.94L233.81 675.95L233.86 674.95L233.93 673.95L234.02 672.95L234.12 671.95L234.25 670.95Z" fill="#D95F02" fill-opacity="0.5" stroke="#111" stroke-width="1.05" stroke-linejoin="round"/>
<path d="M305.02 697.37L304.52 698.36L304.06 699.36L303.63 700.35L303.26 701.35L302.95 702.34L302.71 703.34L302.55 704.33L302.42 705.32L302.31 706.32L302.21 707.31L302.13 708.31L302.08 709.3L302.06 710.3L302.1 711.29L302.21 712.28L302.38 713.28L302.59 714.27L302.83 715.27L303.08 716.26L303.32 717.26L303.63 718.25L304 719.24L304.39 720.24L304.79 721.23L305.15 722.23L305.44 723.22L305.66 724.22L305.87 725.21L306.07 726.2L306.25 727.2L306.39 728.19L306.49 729.19L306.53 730.18L306.51 731.18L306.45 732.17L306.37 733.16L306.26 734.16L306.12 735.15L305.97 736.15L305.8 737.14L305.52 738.14L305.12 739.13L304.64 740.12L304.11 741.12L303.54 742.11L302.98 743.11L302.41 744.1L301.76 745.1L301.05 746.09L300.32 747.09L299.61 748.08L298.95 749.07L298.36 750.07L297.82 751.06L297.3 752.06L296.8 753.05L296.33 754.05L295.9 755.04L295.52 756.03L295.18 757.03L294.85 758.02L294.54 759.02L294.26 760.01L294.01 761.01L293.8 762L293.66 762.99L293.55 763.99L293.45 764.98L293.36 765.98L293.28 766.97L293.23 767.97L293.2 768.96L293.19 769.95L293.25 770.95L293.35 771.94L293.5 772.94L293.67 773.93L293.88 774.93L294.09 775.92L294.32 776.91L294.62 777.91L295 778.9L295.42 779.9L295.87 780.89L296.34 781.89L296.8 782.88L297.25 783.87L297.73 784.87L298.23 785.86L298.75 786.86L299.29 787.85L299.85 788.85L300.42 789.84L316.18 789.84L316.75 788.85L317.31 787.85L317.85 786.86L318.37 785.86L318.87 784.87L319.35 783.87L319.8 782.88L320.26 781.89L320.73 780.89L321.18 779.9L321.6 778.9L321.98 777.91L322.28 776.91L322.51 775.92L322.72 774.93L322.93 773.93L323.1 772.94L323.25 771.94L323.35 770.95L323.41 769.95L323.4 768.96L323.37 767.97L323.32 766.97L323.24 765.98L323.15 764.98L323.05 763.99L322.94 762.99L322.8 762L322.59 761.01L322.34 760.01L322.06 759.02L321.75 758.02L321.42 757.03L321.08 756.03L320.7 755.04L320.27 754.05L319.8 753.05L319.3 752.06L318.78 751.06L318.24 750.07L317.65 749.07L316.99 748.08L316.28 747.09L315.55 746.09L314.84 745.1L314.19 744.1L313.62 743.11L313.06 742.11L312.49 741.12L311.96 740.12L311.48 739.13L311.08 738.14L310.8 737.14L310.63 736.15L310.48 735.15L310.34 734.16L310.23 733.16L310.15 732.17L310.09 731.18L310.07 730.18L310.11 729.19L310.21 728.19L310.35 727.2L310.53 726.2L310.73 725.21L310.94 724.22L311.16 723.22L311.45 722.23L311.81 721.23L312.21 720.24L312.6 719.24L312.97 718.25L313.28 717.26L313.52 716.26L313.77 715.27L314.01 714.27L314.22 713.28L314.39 712.28L314.5 711.29L314.54 710.3L314.52 709.3L314.47 708.31L314.39 707.31L314.29 706.32L314.18 705.32L314.05 704.33L313.89 703.34L313.65 702.34L313.34 701.35L312.97 700.35L312.54 699.36L312.08 698.36L311.58 697.37Z" fill="#7570B3" fill-opacity="0.5" stroke="#111" stroke-width="1.05" stroke-linejoin="round"/>
<g fill="#000" fill-opacity="0.25" stroke="#000" stroke-opacity="0.25" stroke-width="0.7">
<circle cx="171.12" cy="700.26" r="2.4"/>
<circle cx="150.1" cy="725.75" r="2.4"/>
<circle cx="170.86" cy="732.45" r="2.4"/>
<circle cx="144.85" cy="750.18" r="2.4"/>
<circle cx="171.52" cy="750.18" r="2.4"/>
<circle cx="157.99" cy="758.59" r="2.4"/>
<circle cx="152.73" cy="764.5" r="2.4"/>
<circle cx="163.9" cy="766.61" r="2.4"/>
<circle cx="165.87" cy="764.24" r="2.4"/>
<circle cx="169.42" cy="772.52" r="2.4"/>
<circle cx="151.42" cy="774.1" r="2.4"/>
<circle cx="146.42" cy="779.35" r="2.4"/>
<circle cx="146.16" cy="781.98" r="2.4"/>
<circle cx="155.36" cy="781.06" r="2.4"/>
<circle cx="158.25" cy="778.69" r="2.4"/>
<circle cx="167.84" cy="778.69" r="2.4"/>
<circle cx="171.78" cy="780.01" r="2.4"/>
<circle cx="169.81" cy="779.35" r="2.4"/>
<circle cx="162.32" cy="787.23" r="2.4"/>
<circle cx="154.04" cy="789.21" r="2.4"/>
<circle cx="144.58" cy="791.83" r="2.4"/>
<circle cx="156.28" cy="791.83" r="2.4"/>
<circle cx="161.93" cy="791.18" r="2.4"/>
</g>
<g fill="#000" fill-opacity="0.25" stroke="#000" stroke-opacity="0.25" stroke-width="0.7">
<circle cx="233.64" cy="668.61" r="2.4"/>
<circle cx="217.88" cy="694.49" r="2.4"/>
<circle cx="247.83" cy="713.54" r="2.4"/>
<circle cx="224.84" cy="721.82" r="2.4"/>
<circle cx="244.55" cy="722.48" r="2.4"/>
<circle cx="233.25" cy="745.34" r="2.4"/>
<circle cx="243.89" cy="751.25" r="2.4"/>
<circle cx="240.61" cy="763.47" r="2.4"/>
<circle cx="228.78" cy="767.41" r="2.4"/>
<circle cx="238.9" cy="768.72" r="2.4"/>
<circle cx="241.53" cy="766.75" r="2.4"/>
<circle cx="221.42" cy="772.01" r="2.4"/>
<circle cx="230.36" cy="776.61" r="2.4"/>
<circle cx="223.79" cy="776.61" r="2.4"/>
<circle cx="218.93" cy="778.97" r="2.4"/>
<circle cx="238.9" cy="777.92" r="2.4"/>
<circle cx="236.53" cy="781.21" r="2.4"/>
<circle cx="225.1" cy="788.43" r="2.4"/>
<circle cx="235.61" cy="790.8" r="2.4"/>
<circle cx="225.1" cy="793.03" r="2.4"/>
<circle cx="240.47" cy="793.03" r="2.4"/>
</g>
<g fill="#000" fill-opacity="0.25" stroke="#000" stroke-opacity="0.25" stroke-width="0.7">
<circle cx="304.12" cy="693.95" r="2.4"/>
<circle cx="300.45" cy="710.64" r="2.4"/>
<circle cx="304.78" cy="710.37" r="2.4"/>
<circle cx="321.73" cy="710.64" r="2.4"/>
<circle cx="320.42" cy="712.34" r="2.4"/>
<circle cx="306.75" cy="726.8" r="2.4"/>
<circle cx="295.58" cy="744.8" r="2.4"/>
<circle cx="301.5" cy="758.59" r="2.4"/>
<circle cx="305.04" cy="764.64" r="2.4"/>
<circle cx="301.1" cy="767.53" r="2.4"/>
<circle cx="318.84" cy="766.87" r="2.4"/>
<circle cx="311.61" cy="771.73" r="2.4"/>
<circle cx="304.78" cy="773.44" r="2.4"/>
<circle cx="296.77" cy="775.8" r="2.4"/>
<circle cx="302.81" cy="777.77" r="2.4"/>
<circle cx="309.25" cy="778.96" r="2.4"/>
<circle cx="314.24" cy="780.01" r="2.4"/>
<circle cx="294.53" cy="781.98" r="2.4"/>
<circle cx="298.47" cy="787.23" r="2.4"/>
<circle cx="296.77" cy="794.46" r="2.4"/>
<circle cx="302.15" cy="793.8" r="2.4"/>
<circle cx="307.67" cy="794.72" r="2.4"/>
</g>
<path d="M157.3 761.22V776.33M142.2 761.22H172.4M142.2 776.33H172.4" stroke="#000" stroke-width="2.05" fill="none"/>
<circle cx="157.3" cy="768.84" r="4.7" fill="#000"/>
<path d="M232.8 751.64V773.98M217.7 751.64H247.9M217.7 773.98H247.9" stroke="#000" stroke-width="2.05" fill="none"/>
<circle cx="232.8" cy="762.81" r="4.7" fill="#000"/>
<path d="M308.3 746.5V768.18M293.2 746.5H323.4M293.2 768.18H323.4" stroke="#000" stroke-width="2.05" fill="none"/>
<circle cx="308.3" cy="757.41" r="4.7" fill="#000"/>
</g>
<g>
<path d="M442.5 796.45H684.2M442.5 783.24H684.2M442.5 770.02H684.2M442.5 756.82H684.2M442.5 743.61H684.2M442.5 730.39H684.2M442.5 717.19H684.2M442.5 703.98H684.2M442.5 690.76H684.2M442.5 677.56H684.2M442.5 664.35H684.2M442.5 651.13H684.2M442.5 644.53H684.2" stroke="#eaeaea" stroke-width="0.7" fill="none"/>
<path d="M442.5 789.84H684.2M442.5 776.63H684.2M442.5 763.42H684.2M442.5 750.21H684.2M442.5 737H684.2M442.5 723.79H684.2M442.5 710.58H684.2M442.5 697.37H684.2M442.5 684.16H684.2M442.5 670.95H684.2M442.5 657.74H684.2M487.82 637.26V797.11M563.35 637.26V797.11M638.88 637.26V797.11" stroke="#e7e7e7" stroke-width="1.35" fill="none"/>
<g font-size="10.9" fill="#4d4d4d" text-anchor="end">
<text x="436.3" y="793.84">(Very Low) 1</text>
<text x="436.3" y="780.63">2</text>
<text x="436.3" y="767.42">3</text>
<text x="436.3" y="754.21">4</text>
<text x="436.3" y="741">5</text>
<text x="436.3" y="727.79">6</text>
<text x="436.3" y="714.58">7</text>
<text x="436.3" y="701.37">8</text>
<text x="436.3" y="688.16">9</text>
<text x="436.3" y="674.95">10</text>
<text x="436.3" y="661.74">(Very High) 11</text>
</g>
<g font-size="10.9" fill="#4d4d4d" text-anchor="middle">
<text x="487.82" y="811.34">Physical</text>
<text x="563.35" y="811.34">Virtual</text>
<text x="638.88" y="811.34">MR</text>
</g>
<text x="563.35" y="646.54" font-size="16.2" fill="#000" text-anchor="middle">Stress</text>
<path d="M486.37 697.37L486.34 698.36L486.3 699.36L486.25 700.35L486.2 701.35L486.15 702.34L486.09 703.34L486.03 704.33L485.96 705.32L485.89 706.32L485.82 707.31L485.73 708.31L485.63 709.3L485.53 710.3L485.4 711.29L485.23 712.28L485.04 713.28L484.84 714.27L484.64 715.27L484.45 716.26L484.29 717.26L484.13 718.25L483.97 719.24L483.82 720.24L483.67 721.23L483.55 722.23L483.45 723.22L483.38 724.22L483.31 725.21L483.26 726.2L483.21 727.2L483.17 728.19L483.13 729.19L483.09 730.18L483.06 731.18L483.03 732.17L483.01 733.16L482.99 734.16L482.96 735.15L482.92 736.15L482.87 737.14L482.75 738.14L482.58 739.13L482.35 740.12L482.09 741.12L481.81 742.11L481.52 743.11L481.2 744.1L480.82 745.1L480.38 746.09L479.91 747.09L479.41 748.08L478.91 749.07L478.42 750.07L477.91 751.06L477.37 752.06L476.83 753.05L476.28 754.05L475.74 755.04L475.23 756.03L474.76 757.03L474.3 758.02L473.86 759.02L473.43 760.01L473.02 761.01L472.61 762L472.21 762.99L471.82 763.99L471.44 764.98L471.08 765.98L470.72 766.97L470.36 767.97L470 768.96L469.63 769.95L469.26 770.95L468.88 771.94L468.5 772.94L468.13 773.93L467.78 774.93L467.45 775.92L467.14 776.91L466.8 777.91L466.45 778.9L466.13 779.9L465.87 780.89L465.68 781.89L465.61 782.88L465.61 783.87L465.61 784.87L465.61 785.86L465.63 786.86L465.88 787.85L466.35 788.85L466.93 789.84L508.71 789.84L509.29 788.85L509.76 787.85L510.01 786.86L510.02 785.86L510.02 784.87L510.02 783.87L510.02 782.88L509.95 781.89L509.77 780.89L509.5 779.9L509.18 778.9L508.84 777.91L508.5 776.91L508.19 775.92L507.86 774.93L507.51 773.93L507.14 772.94L506.76 771.94L506.38 770.95L506 769.95L505.64 768.96L505.28 767.97L504.92 766.97L504.56 765.98L504.19 764.98L503.82 763.99L503.43 762.99L503.03 762L502.62 761.01L502.21 760.01L501.78 759.02L501.34 758.02L500.88 757.03L500.41 756.03L499.9 755.04L499.36 754.05L498.81 753.05L498.26 752.06L497.73 751.06L497.22 750.07L496.73 749.07L496.23 748.08L495.73 747.09L495.26 746.09L494.82 745.1L494.44 744.1L494.12 743.11L493.83 742.11L493.54 741.12L493.28 740.12L493.06 739.13L492.88 738.14L492.77 737.14L492.72 736.15L492.68 735.15L492.65 734.16L492.63 733.16L492.61 732.17L492.58 731.18L492.55 730.18L492.51 729.19L492.47 728.19L492.43 727.2L492.38 726.2L492.32 725.21L492.26 724.22L492.19 723.22L492.09 722.23L491.96 721.23L491.82 720.24L491.67 719.24L491.51 718.25L491.35 717.26L491.19 716.26L491 715.27L490.8 714.27L490.6 713.28L490.41 712.28L490.24 711.29L490.11 710.3L490 709.3L489.91 708.31L489.82 707.31L489.74 706.32L489.67 705.32L489.61 704.33L489.55 703.34L489.49 702.34L489.44 701.35L489.38 700.35L489.34 699.36L489.3 698.36L489.26 697.37Z" fill="#1B9E77" fill-opacity="0.5" stroke="#111" stroke-width="1.05" stroke-linejoin="round"/>
<path d="M560.2 684.16L560.52 685.16L560.79 686.15L561.01 687.15L561.18 688.15L561.33 689.14L561.43 690.14L561.43 691.14L561.32 692.14L561.16 693.13L561.03 694.13L560.93 695.13L560.83 696.12L560.73 697.12L560.64 698.12L560.56 699.11L560.48 700.11L560.37 701.11L560.2 702.11L559.82 703.1L559.28 704.1L558.73 705.1L558.3 706.09L557.88 707.09L557.48 708.09L557.16 709.08L556.99 710.08L557.08 711.08L557.49 712.08L558.09 713.07L558.74 714.07L559.42 715.07L560.32 716.06L561.24 717.06L562 718.06L562.39 719.05L562.59 720.05L562.76 721.05L562.88 722.05L562.94 723.04L562.95 724.04L562.93 725.04L562.9 726.03L562.84 727.03L562.77 728.03L562.54 729.02L562.07 730.02L561.52 731.02L561.06 732.02L560.7 733.01L560.33 734.01L560.01 735.01L559.8 736L559.74 737L559.81 738L559.93 738.99L560.05 739.99L560.13 740.99L560.09 741.98L559.93 742.98L559.68 743.98L559.37 744.98L559.03 745.97L558.5 746.97L557.78 747.97L557.07 748.96L556.57 749.96L556.29 750.96L556.11 751.95L555.92 752.95L555.64 753.95L555.03 754.95L553.56 755.94L551.74 756.94L550.15 757.94L548.63 758.93L547.18 759.93L546.1 760.93L545.3 761.92L544.83 762.92L545.07 763.92L545.69 764.92L546.27 765.91L546.92 766.91L547.36 767.91L547.04 768.9L545.74 769.9L544.01 770.9L541.24 771.89L537.77 772.89L534.76 773.89L531.59 774.89L529.35 775.88L529.24 776.88L530.27 777.88L531.83 778.87L535.18 779.87L539.25 780.87L542.16 781.86L544.75 782.86L546.06 783.86L546.02 784.86L545.88 785.85L545.68 786.85L545.33 787.85L544.81 788.84L544.17 789.84L582.53 789.84L581.89 788.84L581.37 787.85L581.02 786.85L580.82 785.85L580.68 784.86L580.64 783.86L581.95 782.86L584.54 781.86L587.45 780.87L591.52 779.87L594.87 778.87L596.43 777.88L597.46 776.88L597.35 775.88L595.11 774.89L591.94 773.89L588.93 772.89L585.46 771.89L582.69 770.9L580.96 769.9L579.66 768.9L579.34 767.91L579.78 766.91L580.43 765.91L581.01 764.92L581.63 763.92L581.87 762.92L581.4 761.92L580.6 760.93L579.52 759.93L578.07 758.93L576.55 757.94L574.96 756.94L573.14 755.94L571.67 754.95L571.06 753.95L570.78 752.95L570.59 751.95L570.41 750.96L570.13 749.96L569.63 748.96L568.92 747.97L568.2 746.97L567.67 745.97L567.33 744.98L567.02 743.98L566.77 742.98L566.61 741.98L566.57 740.99L566.65 739.99L566.77 738.99L566.89 738L566.96 737L566.9 736L566.69 735.01L566.37 734.01L566 733.01L565.64 732.02L565.18 731.02L564.63 730.02L564.16 729.02L563.93 728.03L563.86 727.03L563.8 726.03L563.77 725.04L563.75 724.04L563.76 723.04L563.82 722.05L563.94 721.05L564.11 720.05L564.31 719.05L564.7 718.06L565.46 717.06L566.38 716.06L567.28 715.07L567.96 714.07L568.61 713.07L569.21 712.08L569.62 711.08L569.71 710.08L569.54 709.08L569.22 708.09L568.82 707.09L568.4 706.09L567.97 705.1L567.42 704.1L566.88 703.1L566.5 702.11L566.33 701.11L566.22 700.11L566.14 699.11L566.06 698.12L565.97 697.12L565.87 696.12L565.77 695.13L565.67 694.13L565.54 693.13L565.38 692.14L565.27 691.14L565.27 690.14L565.37 689.14L565.52 688.15L565.69 687.15L565.91 686.15L566.18 685.16L566.5 684.16Z" fill="#D95F02" fill-opacity="0.5" stroke="#111" stroke-width="1.05" stroke-linejoin="round"/>
<path d="M635.4 710.58L635.48 711.57L635.56 712.56L635.62 713.55L635.69 714.54L635.74 715.53L635.78 716.52L635.81 717.52L635.84 718.51L635.87 719.5L635.89 720.49L635.91 721.48L635.92 722.47L635.92 723.46L635.91 724.45L635.83 725.44L635.72 726.43L635.58 727.42L635.42 728.41L635.26 729.4L635.11 730.39L634.94 731.39L634.74 732.38L634.53 733.37L634.31 734.36L634.1 735.35L633.9 736.34L633.73 737.33L633.57 738.32L633.41 739.31L633.26 740.3L633.11 741.29L632.95 742.28L632.79 743.27L632.61 744.27L632.43 745.26L632.24 746.25L632.05 747.24L631.84 748.23L631.62 749.22L631.39 750.21L631.13 751.2L630.86 752.19L630.56 753.18L630.26 754.17L629.93 755.16L629.6 756.15L629.26 757.15L628.92 758.14L628.56 759.13L628.18 760.12L627.77 761.11L627.33 762.1L626.84 763.09L626.28 764.08L625.63 765.07L624.92 766.06L624.17 767.05L623.42 768.04L622.68 769.03L621.98 770.03L621.27 771.02L620.55 772.01L619.83 773L619.14 773.99L618.48 774.98L617.87 775.97L617.31 776.96L616.74 777.95L616.19 778.94L615.67 779.93L615.21 780.92L614.84 781.91L614.57 782.9L614.37 783.9L614.19 784.89L614.08 785.88L614.06 786.87L614.2 787.86L614.5 788.85L614.9 789.84L662.86 789.84L663.26 788.85L663.56 787.86L663.7 786.87L663.69 785.88L663.57 784.89L663.39 783.9L663.19 782.9L662.92 781.91L662.55 780.92L662.09 779.93L661.57 778.94L661.02 777.95L660.46 776.96L659.89 775.97L659.29 774.98L658.62 773.99L657.93 773L657.21 772.01L656.49 771.02L655.78 770.03L655.08 769.03L654.34 768.04L653.59 767.05L652.84 766.06L652.13 765.07L651.48 764.08L650.92 763.09L650.44 762.1L649.99 761.11L649.59 760.12L649.21 759.13L648.85 758.14L648.5 757.15L648.16 756.15L647.83 755.16L647.51 754.17L647.2 753.18L646.91 752.19L646.63 751.2L646.38 750.21L646.14 749.22L645.92 748.23L645.72 747.24L645.52 746.25L645.33 745.26L645.15 744.27L644.98 743.27L644.81 742.28L644.65 741.29L644.5 740.3L644.35 739.31L644.2 738.32L644.03 737.33L643.86 736.34L643.66 735.35L643.45 734.36L643.23 733.37L643.02 732.38L642.82 731.39L642.65 730.39L642.5 729.4L642.34 728.41L642.18 727.42L642.04 726.43L641.93 725.44L641.86 724.45L641.84 723.46L641.84 722.47L641.86 721.48L641.87 720.49L641.9 719.5L641.92 718.51L641.95 717.52L641.98 716.52L642.02 715.53L642.08 714.54L642.14 713.55L642.21 712.56L642.28 711.57L642.36 710.58Z" fill="#7570B3" fill-opacity="0.5" stroke="#111" stroke-width="1.05" stroke-linejoin="round"/>
<g fill="#000" fill-opacity="0.25" stroke="#000" stroke-opacity="0.25" stroke-width="0.7">
<circle cx="484.12" cy="701.44" r="2.4"/>
<circle cx="481.76" cy="721.8" r="2.4"/>
<circle cx="481.5" cy="725.09" r="2.4"/>
<circle cx="484.78" cy="739.54" r="2.4"/>
<circle cx="475.45" cy="748.48" r="2.4"/>
<circle cx="485.96" cy="752.02" r="2.4"/>
<circle cx="474.93" cy="767.53" r="2.4"/>
<circle cx="492.66" cy="762.27" r="2.4"/>
<circle cx="493.58" cy="767.79" r="2.4"/>
<circle cx="501.73" cy="766.87" r="2.4"/>
<circle cx="498.58" cy="771.21" r="2.4"/>
<circle cx="483.73" cy="774.36" r="2.4"/>
<circle cx="491.61" cy="774.49" r="2.4"/>
<circle cx="499.5" cy="775.02" r="2.4"/>
<circle cx="472.96" cy="779.61" r="2.4"/>
<circle cx="480.45" cy="781.06" r="2.4"/>
<circle cx="487.01" cy="779.09" r="2.4"/>
<circle cx="479.79" cy="785.66" r="2.4"/>
<circle cx="474.93" cy="787.23" r="2.4"/>
<circle cx="483.73" cy="787.23" r="2.4"/>
<circle cx="490.3" cy="787.23" r="2.4"/>
<circle cx="494.9" cy="787.23" r="2.4"/>
<circle cx="500.42" cy="786.84" r="2.4"/>
<circle cx="502.52" cy="785.53" r="2.4"/>
<circle cx="478.47" cy="790.91" r="2.4"/>
<circle cx="481.1" cy="794.2" r="2.4"/>
<circle cx="489.64" cy="792.49" r="2.4"/>
<circle cx="492.93" cy="793.8" r="2.4"/>
</g>
<g fill="#000" fill-opacity="0.25" stroke="#000" stroke-opacity="0.25" stroke-width="0.7">
<circle cx="555.18" cy="680.81" r="2.4"/>
<circle cx="557.81" cy="695.66" r="2.4"/>
<circle cx="552.16" cy="711.69" r="2.4"/>
<circle cx="560.7" cy="714.58" r="2.4"/>
<circle cx="549.27" cy="739.94" r="2.4"/>
<circle cx="552.42" cy="751.5" r="2.4"/>
<circle cx="578.04" cy="754.39" r="2.4"/>
<circle cx="548.48" cy="760.56" r="2.4"/>
<circle cx="559.12" cy="758.99" r="2.4"/>
<circle cx="578.04" cy="762.66" r="2.4"/>
<circle cx="554.79" cy="766.21" r="2.4"/>
<circle cx="567.01" cy="771.73" r="2.4"/>
<circle cx="560.04" cy="772.78" r="2.4"/>
<circle cx="556.5" cy="778.69" r="2.4"/>
<circle cx="564.64" cy="779.09" r="2.4"/>
<circle cx="569.9" cy="778.04" r="2.4"/>
<circle cx="569.5" cy="780.4" r="2.4"/>
<circle cx="578.44" cy="776.46" r="2.4"/>
<circle cx="576.73" cy="780.66" r="2.4"/>
<circle cx="575.42" cy="783.29" r="2.4"/>
<circle cx="574.5" cy="786.58" r="2.4"/>
<circle cx="575.42" cy="789.47" r="2.4"/>
<circle cx="550.58" cy="792.49" r="2.4"/>
<circle cx="554.13" cy="794.46" r="2.4"/>
<circle cx="556.5" cy="794.46" r="2.4"/>
<circle cx="568.85" cy="793.15" r="2.4"/>
</g>
<g fill="#000" fill-opacity="0.25" stroke="#000" stroke-opacity="0.25" stroke-width="0.7">
<circle cx="637.62" cy="708.01" r="2.4"/>
<circle cx="643.66" cy="708.4" r="2.4"/>
<circle cx="633.81" cy="736.91" r="2.4"/>
<circle cx="640.38" cy="738.23" r="2.4"/>
<circle cx="632.5" cy="747.42" r="2.4"/>
<circle cx="650.76" cy="752.02" r="2.4"/>
<circle cx="651.81" cy="760.96" r="2.4"/>
<circle cx="631.18" cy="766.21" r="2.4"/>
<circle cx="646.55" cy="765.95" r="2.4"/>
<circle cx="628.42" cy="772.12" r="2.4"/>
<circle cx="630.79" cy="774.1" r="2.4"/>
<circle cx="624.22" cy="775.15" r="2.4"/>
<circle cx="631.45" cy="776.07" r="2.4"/>
<circle cx="625.14" cy="788.94" r="2.4"/>
<circle cx="628.82" cy="789.86" r="2.4"/>
<circle cx="634.07" cy="790.52" r="2.4"/>
<circle cx="640.38" cy="788.15" r="2.4"/>
<circle cx="652.47" cy="788.15" r="2.4"/>
<circle cx="623.56" cy="794.46" r="2.4"/>
<circle cx="632.76" cy="793.8" r="2.4"/>
<circle cx="643.93" cy="793.15" r="2.4"/>
<circle cx="645.9" cy="793.15" r="2.4"/>
<circle cx="651.15" cy="792.49" r="2.4"/>
<circle cx="653.12" cy="790.52" r="2.4"/>
</g>
<path d="M487.82 760.96V778.69M472.71 760.96H502.93M472.71 778.69H502.93" stroke="#000" stroke-width="2.05" fill="none"/>
<circle cx="487.82" cy="769.76" r="4.7" fill="#000"/>
<path d="M563.35 753.07V774.36M548.24 753.07H578.46M548.24 774.36H578.46" stroke="#000" stroke-width="2.05" fill="none"/>
<circle cx="563.35" cy="763.58" r="4.7" fill="#000"/>
<path d="M638.88 762.27V781.06M623.77 762.27H653.99M623.77 781.06H653.99" stroke="#000" stroke-width="2.05" fill="none"/>
<circle cx="638.88" cy="771.73" r="4.7" fill="#000"/>
</g>
<g>
<path d="M112 1007.91H357.5M112 994.7H357.5M112 981.49H357.5M112 968.28H357.5M112 955.07H357.5M112 941.86H357.5M112 928.65H357.5M112 915.44H357.5M112 902.23H357.5M112 889.02H357.5M112 875.81H357.5M112 862.6H357.5M112 855.99H357.5" stroke="#eaeaea" stroke-width="0.7" fill="none"/>
<path d="M112 1001.3H357.5M112 988.09H357.5M112 974.88H357.5M112 961.67H357.5M112 948.46H357.5M112 935.25H357.5M112 922.04H357.5M112 908.83H357.5M112 895.62H357.5M112 882.41H357.5M112 869.2H357.5M158.03 848.72V1008.57M234.75 848.72V1008.57M311.47 848.72V1008.57" stroke="#e7e7e7" stroke-width="1.35" fill="none"/>
<g font-size="10.9" fill="#4d4d4d" text-anchor="end">
<text x="105.8" y="999">(Very Low,</text>
<text x="105.8" y="1011.1">Sleepiness) 1</text>
<text x="105.8" y="992.09">2</text>
<text x="105.8" y="978.88">3</text>
<text x="105.8" y="965.67">4</text>
<text x="105.8" y="952.46">5</text>
<text x="105.8" y="939.25">6</text>
<text x="105.8" y="926.04">7</text>
<text x="105.8" y="912.83">8</text>
<text x="105.8" y="899.62">9</text>
<text x="105.8" y="886.41">10</text>
<text x="105.8" y="866.9">(Very High,</text>
<text x="105.8" y="879">Extreme alertness) 11</text>
</g>
<g font-size="10.9" fill="#4d4d4d" text-anchor="middle">
<text x="158.03" y="1022.8">Physical</text>
<text x="234.75" y="1022.8">Virtual</text>
<text x="311.47" y="1022.8">MR</text>
</g>
<text x="234.75" y="858" font-size="16.2" fill="#000" text-anchor="middle">Arousal</text>
<path d="M153.63 869.2L153.3 870.2L152.93 871.2L152.54 872.2L152.13 873.2L151.69 874.2L151.23 875.19L150.75 876.19L150.21 877.19L149.64 878.19L149.04 879.19L148.43 880.19L147.82 881.19L147.22 882.19L146.64 883.19L146.04 884.19L145.45 885.19L144.86 886.18L144.28 887.18L143.72 888.18L143.18 889.18L142.65 890.18L142.12 891.18L141.61 892.18L141.11 893.18L140.66 894.18L140.24 895.18L139.86 896.18L139.5 897.17L139.16 898.17L138.84 899.17L138.55 900.17L138.3 901.17L138.08 902.17L137.9 903.17L137.74 904.17L137.59 905.17L137.46 906.17L137.33 907.16L137.19 908.16L137.05 909.16L136.91 910.16L136.78 911.16L136.64 912.16L136.51 913.16L136.37 914.16L136.23 915.16L136.08 916.16L135.93 917.16L135.77 918.15L135.61 919.15L135.46 920.15L135.32 921.15L135.19 922.15L135.06 923.15L134.94 924.15L134.82 925.15L134.71 926.15L134.61 927.15L134.53 928.15L134.46 929.14L134.39 930.14L134.32 931.14L134.26 932.14L134.22 933.14L134.19 934.14L134.19 935.14L134.22 936.14L134.29 937.14L134.38 938.14L134.48 939.14L134.59 940.13L134.69 941.13L134.82 942.13L134.95 943.13L135.1 944.13L135.26 945.13L135.42 946.13L135.58 947.13L135.76 948.13L135.95 949.13L136.15 950.13L136.36 951.12L136.57 952.12L136.8 953.12L137.03 954.12L137.27 955.12L137.52 956.12L137.78 957.12L138.05 958.12L138.34 959.12L138.62 960.12L138.93 961.11L139.24 962.11L139.57 963.11L139.91 964.11L140.26 965.11L140.61 966.11L140.97 967.11L141.34 968.11L141.72 969.11L142.11 970.11L142.51 971.11L142.92 972.1L143.34 973.1L143.77 974.1L144.22 975.1L144.69 976.1L145.15 977.1L145.61 978.1L146.05 979.1L146.47 980.1L146.88 981.1L147.28 982.1L147.67 983.09L148.06 984.09L148.45 985.09L148.85 986.09L149.24 987.09L149.62 988.09L166.44 988.09L166.83 987.09L167.22 986.09L167.61 985.09L168 984.09L168.39 983.09L168.79 982.1L169.19 981.1L169.59 980.1L170.01 979.1L170.46 978.1L170.91 977.1L171.38 976.1L171.84 975.1L172.29 974.1L172.73 973.1L173.14 972.1L173.55 971.11L173.95 970.11L174.34 969.11L174.72 968.11L175.09 967.11L175.45 966.11L175.81 965.11L176.15 964.11L176.49 963.11L176.82 962.11L177.13 961.11L177.44 960.12L177.73 959.12L178.01 958.12L178.28 957.12L178.54 956.12L178.79 955.12L179.03 954.12L179.27 953.12L179.49 952.12L179.7 951.12L179.91 950.13L180.11 949.13L180.3 948.13L180.48 947.13L180.64 946.13L180.81 945.13L180.96 944.13L181.11 943.13L181.24 942.13L181.37 941.13L181.48 940.13L181.58 939.14L181.68 938.14L181.77 937.14L181.84 936.14L181.88 935.14L181.87 934.14L181.84 933.14L181.8 932.14L181.74 931.14L181.67 930.14L181.6 929.14L181.53 928.15L181.45 927.15L181.35 926.15L181.24 925.15L181.13 924.15L181 923.15L180.87 922.15L180.74 921.15L180.6 920.15L180.45 919.15L180.29 918.15L180.13 917.16L179.98 916.16L179.83 915.16L179.69 914.16L179.56 913.16L179.42 912.16L179.29 911.16L179.15 910.16L179.01 909.16L178.87 908.16L178.74 907.16L178.6 906.17L178.47 905.17L178.32 904.17L178.16 903.17L177.98 902.17L177.77 901.17L177.51 900.17L177.22 899.17L176.9 898.17L176.56 897.17L176.2 896.18L175.82 895.18L175.41 894.18L174.95 893.18L174.46 892.18L173.94 891.18L173.41 890.18L172.88 889.18L172.34 888.18L171.78 887.18L171.2 886.18L170.61 885.19L170.02 884.19L169.42 883.19L168.84 882.19L168.25 881.19L167.64 880.19L167.02 879.19L166.42 878.19L165.85 877.19L165.32 876.19L164.83 875.19L164.38 874.2L163.94 873.2L163.52 872.2L163.13 871.2L162.77 870.2L162.43 869.2Z" fill="#1B9E77" fill-opacity="0.5" stroke="#111" stroke-width="1.05" stroke-linejoin="round"/>
<path d="M223.12 882.41L223.08 883.4L222.96 884.4L222.77 885.39L222.54 886.39L222.26 887.38L221.95 888.38L221.59 889.37L221.06 890.36L220.37 891.36L219.55 892.35L218.64 893.35L217.67 894.34L216.66 895.34L215.53 896.33L214.16 897.32L212.65 898.32L211.1 899.31L209.59 900.31L208.21 901.3L207.03 902.3L205.88 903.29L204.75 904.28L203.68 905.28L202.72 906.27L201.93 907.27L201.35 908.26L200.97 909.26L200.62 910.25L200.32 911.24L200.11 912.24L200 913.23L200.05 914.23L200.27 915.22L200.59 916.22L200.93 917.21L201.2 918.2L201.43 919.2L201.64 920.19L201.85 921.19L202.05 922.18L202.23 923.18L202.41 924.17L202.58 925.16L202.76 926.16L202.96 927.15L203.17 928.15L203.4 929.14L203.66 930.14L203.93 931.13L204.23 932.13L204.55 933.12L204.89 934.11L205.26 935.11L205.66 936.1L206.11 937.1L206.6 938.09L207.13 939.09L207.69 940.08L208.28 941.07L208.9 942.07L209.59 943.06L210.34 944.06L211.13 945.05L211.96 946.05L212.82 947.04L213.7 948.03L214.65 949.03L215.7 950.02L216.8 951.02L217.91 952.01L218.96 953.01L219.9 954L220.7 954.99L221.45 955.99L222.17 956.98L222.83 957.98L223.44 958.97L223.97 959.97L224.41 960.96L224.77 961.95L225.1 962.95L225.39 963.94L225.66 964.94L225.89 965.93L226.08 966.93L226.23 967.92L226.36 968.91L226.49 969.91L226.61 970.9L226.71 971.9L226.79 972.89L226.84 973.89L226.87 974.88L242.63 974.88L242.66 973.89L242.71 972.89L242.79 971.9L242.89 970.9L243.01 969.91L243.14 968.91L243.27 967.92L243.42 966.93L243.61 965.93L243.84 964.94L244.11 963.94L244.4 962.95L244.73 961.95L245.09 960.96L245.53 959.97L246.06 958.97L246.67 957.98L247.33 956.98L248.05 955.99L248.8 954.99L249.6 954L250.54 953.01L251.59 952.01L252.7 951.02L253.8 950.02L254.85 949.03L255.8 948.03L256.68 947.04L257.54 946.05L258.37 945.05L259.16 944.06L259.91 943.06L260.6 942.07L261.22 941.07L261.81 940.08L262.37 939.09L262.9 938.09L263.39 937.1L263.84 936.1L264.24 935.11L264.61 934.11L264.95 933.12L265.27 932.13L265.57 931.13L265.84 930.14L266.1 929.14L266.33 928.15L266.54 927.15L266.74 926.16L266.92 925.16L267.09 924.17L267.27 923.18L267.45 922.18L267.65 921.19L267.86 920.19L268.07 919.2L268.3 918.2L268.57 917.21L268.91 916.22L269.23 915.22L269.45 914.23L269.5 913.23L269.39 912.24L269.18 911.24L268.88 910.25L268.53 909.26L268.15 908.26L267.57 907.27L266.78 906.27L265.82 905.28L264.75 904.28L263.62 903.29L262.47 902.3L261.29 901.3L259.91 900.31L258.4 899.31L256.85 898.32L255.34 897.32L253.97 896.33L252.84 895.34L251.83 894.34L250.86 893.35L249.95 892.35L249.13 891.36L248.44 890.36L247.91 889.37L247.55 888.38L247.24 887.38L246.96 886.39L246.73 885.39L246.54 884.4L246.42 883.4L246.38 882.41Z" fill="#D95F02" fill-opacity="0.5" stroke="#111" stroke-width="1.05" stroke-linejoin="round"/>
<path d="M295.9 882.41L294.56 883.4L293.25 884.4L291.99 885.39L290.76 886.39L289.57 887.38L288.43 888.38L287.33 889.37L286.21 890.36L285.11 891.36L284.06 892.35L283.08 893.35L282.21 894.34L281.48 895.34L280.84 896.33L280.24 897.32L279.69 898.32L279.2 899.31L278.78 900.31L278.45 901.3L278.22 902.3L278.02 903.29L277.86 904.28L277.78 905.28L277.83 906.27L278.08 907.27L278.41 908.26L278.73 909.26L279.11 910.25L279.53 911.24L279.97 912.24L280.44 913.23L280.91 914.23L281.38 915.22L281.86 916.22L282.36 917.21L282.88 918.2L283.4 919.2L283.9 920.19L284.39 921.19L284.84 922.18L285.27 923.18L285.67 924.17L286.07 925.16L286.46 926.16L286.86 927.15L287.27 928.15L287.7 929.14L288.13 930.14L288.56 931.13L289 932.13L289.46 933.12L289.92 934.11L290.4 935.11L290.91 936.1L291.44 937.1L291.98 938.09L292.53 939.09L293.08 940.08L293.63 941.07L294.18 942.07L294.73 943.06L295.3 944.06L295.86 945.05L296.42 946.05L296.95 947.04L297.46 948.03L297.95 949.03L298.44 950.02L298.91 951.02L299.36 952.01L299.8 953.01L300.2 954L300.56 954.99L300.91 955.99L301.24 956.98L301.56 957.98L301.85 958.97L302.12 959.97L302.35 960.96L302.55 961.95L302.74 962.95L302.91 963.94L303.06 964.94L303.2 965.93L303.34 966.93L303.47 967.92L303.6 968.91L303.72 969.91L303.84 970.9L303.95 971.9L304.06 972.89L304.15 973.89L304.24 974.88L318.7 974.88L318.78 973.89L318.88 972.89L318.99 971.9L319.1 970.9L319.21 969.91L319.34 968.91L319.46 967.92L319.6 966.93L319.73 965.93L319.88 964.94L320.03 963.94L320.2 962.95L320.38 961.95L320.59 960.96L320.82 959.97L321.09 958.97L321.38 957.98L321.69 956.98L322.03 955.99L322.38 954.99L322.74 954L323.14 953.01L323.57 952.01L324.03 951.02L324.5 950.02L324.99 949.03L325.48 948.03L325.99 947.04L326.52 946.05L327.08 945.05L327.64 944.06L328.2 943.06L328.76 942.07L329.31 941.07L329.86 940.08L330.41 939.09L330.96 938.09L331.5 937.1L332.03 936.1L332.53 935.11L333.02 934.11L333.48 933.12L333.94 932.13L334.38 931.13L334.81 930.14L335.24 929.14L335.67 928.15L336.08 927.15L336.48 926.16L336.87 925.16L337.27 924.17L337.67 923.18L338.1 922.18L338.55 921.19L339.04 920.19L339.54 919.2L340.06 918.2L340.58 917.21L341.08 916.22L341.56 915.22L342.02 914.23L342.5 913.23L342.96 912.24L343.41 911.24L343.83 910.25L344.2 909.26L344.53 908.26L344.86 907.27L345.11 906.27L345.16 905.28L345.08 904.28L344.92 903.29L344.72 902.3L344.48 901.3L344.16 900.31L343.74 899.31L343.25 898.32L342.69 897.32L342.09 896.33L341.46 895.34L340.73 894.34L339.86 893.35L338.88 892.35L337.82 891.36L336.72 890.36L335.61 889.37L334.5 888.38L333.36 887.38L332.18 886.39L330.95 885.39L329.68 884.4L328.38 883.4L327.04 882.41Z" fill="#7570B3" fill-opacity="0.5" stroke="#111" stroke-width="1.05" stroke-linejoin="round"/>
<g fill="#000" fill-opacity="0.25" stroke="#000" stroke-opacity="0.25" stroke-width="0.7">
<circle cx="158.99" cy="870.81" r="2.4"/>
<circle cx="172.12" cy="893.15" r="2.4"/>
<circle cx="166.21" cy="894.85" r="2.4"/>
<circle cx="169.5" cy="896.83" r="2.4"/>
<circle cx="166.61" cy="899.45" r="2.4"/>
<circle cx="148.47" cy="905.37" r="2.4"/>
<circle cx="152.02" cy="906.68" r="2.4"/>
<circle cx="163.32" cy="908.26" r="2.4"/>
<circle cx="161.61" cy="909.57" r="2.4"/>
<circle cx="155.96" cy="919.82" r="2.4"/>
<circle cx="149.79" cy="930.59" r="2.4"/>
<circle cx="147.82" cy="932.56" r="2.4"/>
<circle cx="152.42" cy="934.53" r="2.4"/>
<circle cx="166.21" cy="935.19" r="2.4"/>
<circle cx="142.96" cy="952.66" r="2.4"/>
<circle cx="166.47" cy="951.88" r="2.4"/>
<circle cx="155.96" cy="957.26" r="2.4"/>
<circle cx="148.21" cy="962.52" r="2.4"/>
<circle cx="158.72" cy="963.7" r="2.4"/>
<circle cx="163.19" cy="963.7" r="2.4"/>
<circle cx="171.47" cy="963.7" r="2.4"/>
<circle cx="173.04" cy="971.06" r="2.4"/>
<circle cx="148.21" cy="978.55" r="2.4"/>
<circle cx="152.15" cy="983.8" r="2.4"/>
<circle cx="156.75" cy="986.83" r="2.4"/>
</g>
<g fill="#000" fill-opacity="0.25" stroke="#000" stroke-opacity="0.25" stroke-width="0.7">
<circle cx="246.1" cy="877.38" r="2.4"/>
<circle cx="234.67" cy="884.34" r="2.4"/>
<circle cx="222.19" cy="887.5" r="2.4"/>
<circle cx="244.26" cy="890.78" r="2.4"/>
<circle cx="226.79" cy="905.37" r="2.4"/>
<circle cx="232.31" cy="904.58" r="2.4"/>
<circle cx="237.69" cy="904.58" r="2.4"/>
<circle cx="229.68" cy="908.26" r="2.4"/>
<circle cx="243.47" cy="906.94" r="2.4"/>
<circle cx="230.47" cy="910.62" r="2.4"/>
<circle cx="224.16" cy="912.85" r="2.4"/>
<circle cx="238.61" cy="913.25" r="2.4"/>
<circle cx="226.53" cy="921.66" r="2.4"/>
<circle cx="222.45" cy="923.76" r="2.4"/>
<circle cx="246.5" cy="919.82" r="2.4"/>
<circle cx="248.73" cy="921.66" r="2.4"/>
<circle cx="241.64" cy="924.02" r="2.4"/>
<circle cx="223.9" cy="931.25" r="2.4"/>
<circle cx="231.78" cy="931.25" r="2.4"/>
<circle cx="238.35" cy="932.96" r="2.4"/>
<circle cx="248.47" cy="933.48" r="2.4"/>
<circle cx="231.12" cy="939.13" r="2.4"/>
<circle cx="224.55" cy="950.56" r="2.4"/>
<circle cx="221.53" cy="951.35" r="2.4"/>
<circle cx="219.96" cy="950.96" r="2.4"/>
<circle cx="235.72" cy="952.27" r="2.4"/>
<circle cx="224.82" cy="966.72" r="2.4"/>
<circle cx="233.75" cy="973.03" r="2.4"/>
<circle cx="236.64" cy="974.61" r="2.4"/>
</g>
<g fill="#000" fill-opacity="0.25" stroke="#000" stroke-opacity="0.25" stroke-width="0.7">
<circle cx="325.47" cy="879.35" r="2.4"/>
<circle cx="321.26" cy="885.66" r="2.4"/>
<circle cx="305.1" cy="892.23" r="2.4"/>
<circle cx="320.87" cy="891.57" r="2.4"/>
<circle cx="326.12" cy="895.51" r="2.4"/>
<circle cx="298.27" cy="899.72" r="2.4"/>
<circle cx="318.64" cy="898.4" r="2.4"/>
<circle cx="323.23" cy="899.72" r="2.4"/>
<circle cx="307.34" cy="905.89" r="2.4"/>
<circle cx="313.64" cy="906.29" r="2.4"/>
<circle cx="314.56" cy="906.94" r="2.4"/>
<circle cx="326.52" cy="906.68" r="2.4"/>
<circle cx="316.27" cy="911.54" r="2.4"/>
<circle cx="319.29" cy="912.46" r="2.4"/>
<circle cx="307.47" cy="921.66" r="2.4"/>
<circle cx="295.91" cy="924.68" r="2.4"/>
<circle cx="315.61" cy="925.73" r="2.4"/>
<circle cx="309.31" cy="933.48" r="2.4"/>
<circle cx="297.48" cy="935.45" r="2.4"/>
<circle cx="300.9" cy="938.21" r="2.4"/>
<circle cx="316.01" cy="936.5" r="2.4"/>
<circle cx="320.47" cy="934.53" r="2.4"/>
<circle cx="310.62" cy="952.53" r="2.4"/>
<circle cx="316.27" cy="953.19" r="2.4"/>
<circle cx="310.75" cy="961.47" r="2.4"/>
<circle cx="304.18" cy="971.06" r="2.4"/>
<circle cx="319.95" cy="971.32" r="2.4"/>
</g>
<path d="M158.03 921.79V945.31M142.69 921.79H173.38M142.69 945.31H173.38" stroke="#000" stroke-width="2.05" fill="none"/>
<circle cx="158.03" cy="933.61" r="4.7" fill="#000"/>
<path d="M234.75 915.48V934.14M219.41 915.48H250.09M219.41 934.14H250.09" stroke="#000" stroke-width="2.05" fill="none"/>
<circle cx="234.75" cy="924.68" r="4.7" fill="#000"/>
<path d="M311.47 909.96V929.67M296.12 909.96H326.81M296.12 929.67H326.81" stroke="#000" stroke-width="2.05" fill="none"/>
<circle cx="311.47" cy="919.82" r="4.7" fill="#000"/>
</g>
<g>
<path d="M439.3 1007.91H684.2M439.3 994.7H684.2M439.3 981.49H684.2M439.3 968.28H684.2M439.3 955.07H684.2M439.3 941.86H684.2M439.3 928.65H684.2M439.3 915.44H684.2M439.3 902.23H684.2M439.3 889.02H684.2M439.3 875.81H684.2M439.3 862.6H684.2M439.3 855.99H684.2" stroke="#eaeaea" stroke-width="0.7" fill="none"/>
<path d="M439.3 1001.3H684.2M439.3 988.09H684.2M439.3 974.88H684.2M439.3 961.67H684.2M439.3 948.46H684.2M439.3 935.25H684.2M439.3 922.04H684.2M439.3 908.83H684.2M439.3 895.62H684.2M439.3 882.41H684.2M439.3 869.2H684.2M485.22 848.72V1008.57M561.75 848.72V1008.57M638.28 848.72V1008.57" stroke="#e7e7e7" stroke-width="1.35" fill="none"/>
<g font-size="10.9" fill="#4d4d4d" text-anchor="end">
<text x="433.1" y="999">(Unpleasant&#160;</text>
<text x="433.1" y="1011.1">feelings) 1</text>
<text x="433.1" y="992.09">2</text>
<text x="433.1" y="978.88">3</text>
<text x="433.1" y="965.67">4</text>
<text x="433.1" y="952.46">5</text>
<text x="433.1" y="939.25">6</text>
<text x="433.1" y="926.04">7</text>
<text x="433.1" y="912.83">8</text>
<text x="433.1" y="899.62">9</text>
<text x="433.1" y="886.41">10</text>
<text x="433.1" y="866.9">(Pleasant&#160;</text>
<text x="433.1" y="879">feelings) 11</text>
</g>
<g font-size="10.9" fill="#4d4d4d" text-anchor="middle">
<text x="485.22" y="1022.8">Physical</text>
<text x="561.75" y="1022.8">Virtual</text>
<text x="638.28" y="1022.8">MR</text>
</g>
<text x="561.75" y="858" font-size="16.2" fill="#000" text-anchor="middle">Valence</text>
<path d="M475.56 869.2L475.09 870.19L474.6 871.18L474.11 872.17L473.6 873.16L473.09 874.15L472.56 875.14L472.02 876.14L471.47 877.13L470.9 878.12L470.32 879.11L469.73 880.1L469.14 881.09L468.56 882.08L467.97 883.07L467.36 884.06L466.75 885.05L466.14 886.04L465.57 887.03L465.03 888.02L464.56 889.02L464.11 890.01L463.66 891L463.23 891.99L462.85 892.98L462.53 893.97L462.3 894.96L462.14 895.95L462.01 896.94L461.89 897.93L461.79 898.92L461.71 899.91L461.65 900.9L461.63 901.89L461.66 902.89L461.72 903.88L461.81 904.87L461.93 905.86L462.06 906.85L462.2 907.84L462.33 908.83L462.48 909.82L462.64 910.81L462.82 911.8L463.02 912.79L463.24 913.78L463.49 914.77L463.77 915.77L464.13 916.76L464.55 917.75L465.02 918.74L465.53 919.73L466.05 920.72L466.59 921.71L467.14 922.7L467.74 923.69L468.37 924.68L469.02 925.67L469.68 926.66L470.32 927.65L470.95 928.64L471.58 929.64L472.22 930.63L472.86 931.62L473.48 932.61L474.07 933.6L474.6 934.59L475.09 935.58L475.56 936.57L476.01 937.56L476.43 938.55L476.82 939.54L477.17 940.53L477.47 941.52L477.75 942.52L478.01 943.51L478.26 944.5L478.48 945.49L478.68 946.48L478.84 947.47L478.98 948.46L491.46 948.46L491.59 947.47L491.76 946.48L491.96 945.49L492.18 944.5L492.42 943.51L492.69 942.52L492.96 941.52L493.27 940.53L493.62 939.54L494.01 938.55L494.43 937.56L494.88 936.57L495.35 935.58L495.83 934.59L496.37 933.6L496.96 932.61L497.58 931.62L498.22 930.63L498.86 929.64L499.49 928.64L500.12 927.65L500.76 926.66L501.42 925.67L502.07 924.68L502.7 923.69L503.3 922.7L503.85 921.71L504.38 920.72L504.91 919.73L505.42 918.74L505.89 917.75L506.31 916.76L506.67 915.77L506.95 914.77L507.2 913.78L507.42 912.79L507.62 911.8L507.8 910.81L507.96 909.82L508.1 908.83L508.24 907.84L508.37 906.85L508.51 905.86L508.62 904.87L508.72 903.88L508.78 902.89L508.8 901.89L508.78 900.9L508.73 899.91L508.65 898.92L508.55 897.93L508.43 896.94L508.29 895.95L508.14 894.96L507.9 893.97L507.59 892.98L507.2 891.99L506.78 891L506.33 890.01L505.87 889.02L505.4 888.02L504.87 887.03L504.29 886.04L503.69 885.05L503.07 884.06L502.46 883.07L501.88 882.08L501.3 881.09L500.71 880.1L500.12 879.11L499.54 878.12L498.97 877.13L498.41 876.14L497.88 875.14L497.35 874.15L496.83 873.16L496.33 872.17L495.83 871.18L495.35 870.19L494.88 869.2Z" fill="#1B9E77" fill-opacity="0.5" stroke="#111" stroke-width="1.05" stroke-linejoin="round"/>
<path d="M553.87 869.2L553.09 870.2L552.33 871.19L551.6 872.19L550.89 873.19L550.22 874.18L549.57 875.18L548.96 876.18L548.34 877.18L547.74 878.17L547.16 879.17L546.62 880.17L546.15 881.16L545.75 882.16L545.4 883.16L545.06 884.15L544.75 885.15L544.47 886.15L544.24 887.15L544.08 888.14L543.99 889.14L543.93 890.14L543.87 891.13L543.82 892.13L543.79 893.13L543.76 894.12L543.75 895.12L543.78 896.12L543.9 897.12L544.08 898.11L544.31 899.11L544.54 900.11L544.77 901.1L544.96 902.1L545.14 903.1L545.33 904.09L545.52 905.09L545.69 906.09L545.84 907.09L545.95 908.08L546.02 909.08L546.08 910.08L546.13 911.07L546.18 912.07L546.21 913.07L546.24 914.06L546.25 915.06L546.22 916.06L546.14 917.06L546.02 918.05L545.88 919.05L545.72 920.05L545.56 921.04L545.42 922.04L545.27 923.04L545.08 924.03L544.9 925.03L544.73 926.03L544.61 927.02L544.54 928.02L544.55 929.02L544.58 930.02L544.64 931.01L544.73 932.01L544.83 933.01L544.95 934L545.07 935L545.27 936L545.58 936.99L545.96 937.99L546.4 938.99L546.86 939.99L547.33 940.98L547.78 941.98L548.28 942.98L548.81 943.97L549.37 944.97L549.94 945.97L550.51 946.96L551.05 947.96L551.59 948.96L552.13 949.96L552.67 950.95L553.21 951.95L553.72 952.95L554.21 953.94L554.66 954.94L555.1 955.94L555.53 956.93L555.94 957.93L556.32 958.93L556.66 959.93L556.95 960.92L557.19 961.92L557.4 962.92L557.59 963.91L557.76 964.91L557.92 965.91L558.07 966.9L558.22 967.9L558.37 968.9L558.51 969.9L558.65 970.89L558.78 971.89L558.9 972.89L559.02 973.88L559.12 974.88L564.38 974.88L564.48 973.88L564.6 972.89L564.72 971.89L564.85 970.89L564.99 969.9L565.13 968.9L565.28 967.9L565.43 966.9L565.58 965.91L565.74 964.91L565.91 963.91L566.1 962.92L566.31 961.92L566.55 960.92L566.84 959.93L567.18 958.93L567.56 957.93L567.97 956.93L568.4 955.94L568.84 954.94L569.29 953.94L569.78 952.95L570.29 951.95L570.83 950.95L571.37 949.96L571.91 948.96L572.45 947.96L572.99 946.96L573.56 945.97L574.13 944.97L574.69 943.97L575.22 942.98L575.72 941.98L576.17 940.98L576.64 939.99L577.1 938.99L577.54 937.99L577.92 936.99L578.23 936L578.43 935L578.55 934L578.67 933.01L578.77 932.01L578.86 931.01L578.92 930.02L578.95 929.02L578.96 928.02L578.89 927.02L578.77 926.03L578.6 925.03L578.42 924.03L578.23 923.04L578.08 922.04L577.94 921.04L577.78 920.05L577.62 919.05L577.48 918.05L577.36 917.06L577.28 916.06L577.25 915.06L577.26 914.06L577.29 913.07L577.32 912.07L577.37 911.07L577.42 910.08L577.48 909.08L577.55 908.08L577.66 907.09L577.81 906.09L577.98 905.09L578.17 904.09L578.36 903.1L578.54 902.1L578.73 901.1L578.96 900.11L579.19 899.11L579.42 898.11L579.6 897.12L579.72 896.12L579.75 895.12L579.74 894.12L579.71 893.13L579.68 892.13L579.63 891.13L579.57 890.14L579.51 889.14L579.42 888.14L579.26 887.15L579.03 886.15L578.75 885.15L578.44 884.15L578.1 883.16L577.75 882.16L577.35 881.16L576.88 880.17L576.34 879.17L575.76 878.17L575.16 877.18L574.54 876.18L573.93 875.18L573.28 874.18L572.61 873.19L571.9 872.19L571.17 871.19L570.41 870.2L569.63 869.2Z" fill="#D95F02" fill-opacity="0.5" stroke="#111" stroke-width="1.05" stroke-linejoin="round"/>
<path d="M634.08 869.2L633.97 870.19L633.69 871.17L633.27 872.16L632.73 873.14L632.11 874.13L631.44 875.11L630.72 876.1L629.73 877.09L628.47 878.07L627.01 879.06L625.44 880.04L623.82 881.03L622.21 882.02L620.6 883L618.82 883.99L616.95 884.97L615.05 885.96L613.21 886.94L611.51 887.93L610.01 888.92L608.56 889.9L607.12 890.89L605.82 891.87L604.81 892.86L604.24 893.85L603.93 894.83L603.68 895.82L603.52 896.8L603.46 897.79L603.71 898.77L604.31 899.76L605.1 900.75L605.92 901.73L606.74 902.72L607.71 903.7L608.8 904.69L609.93 905.68L611.06 906.66L612.13 907.65L613.09 908.63L614 909.62L614.91 910.6L615.78 911.59L616.61 912.58L617.37 913.56L618.04 914.55L618.61 915.53L619.12 916.52L619.59 917.51L620.01 918.49L620.4 919.48L620.76 920.46L621.09 921.45L621.4 922.43L621.66 923.42L621.91 924.41L622.14 925.39L622.37 926.38L622.6 927.36L622.84 928.35L623.1 929.34L623.35 930.32L623.62 931.31L623.88 932.29L624.14 933.28L624.41 934.26L624.68 935.25L651.88 935.25L652.15 934.26L652.42 933.28L652.68 932.29L652.95 931.31L653.21 930.32L653.47 929.34L653.72 928.35L653.97 927.36L654.2 926.38L654.42 925.39L654.65 924.41L654.9 923.42L655.17 922.43L655.47 921.45L655.8 920.46L656.16 919.48L656.55 918.49L656.98 917.51L657.44 916.52L657.95 915.53L658.52 914.55L659.19 913.56L659.95 912.58L660.78 911.59L661.66 910.6L662.56 909.62L663.47 908.63L664.43 907.65L665.5 906.66L666.63 905.68L667.77 904.69L668.85 903.7L669.82 902.72L670.64 901.73L671.47 900.75L672.25 899.76L672.85 898.77L673.1 897.79L673.04 896.8L672.88 895.82L672.63 894.83L672.32 893.85L671.75 892.86L670.75 891.87L669.45 890.89L668 889.9L666.55 888.92L665.05 887.93L663.35 886.94L661.51 885.96L659.61 884.97L657.74 883.99L655.96 883L654.35 882.02L652.75 881.03L651.12 880.04L649.55 879.06L648.1 878.07L646.84 877.09L645.84 876.1L645.12 875.11L644.45 874.13L643.83 873.14L643.29 872.16L642.87 871.17L642.59 870.19L642.49 869.2Z" fill="#7570B3" fill-opacity="0.5" stroke="#111" stroke-width="1.05" stroke-linejoin="round"/>
<g fill="#000" fill-opacity="0.25" stroke="#000" stroke-opacity="0.25" stroke-width="0.7">
<circle cx="474.55" cy="866.61" r="2.4"/>
<circle cx="488.35" cy="870.15" r="2.4"/>
<circle cx="497.81" cy="873.83" r="2.4"/>
<circle cx="473.24" cy="878.69" r="2.4"/>
<circle cx="492.95" cy="880.66" r="2.4"/>
<circle cx="487.56" cy="882.64" r="2.4"/>
<circle cx="493.47" cy="882.37" r="2.4"/>
<circle cx="481.78" cy="890.52" r="2.4"/>
<circle cx="472.45" cy="892.49" r="2.4"/>
<circle cx="497.81" cy="892.23" r="2.4"/>
<circle cx="476.53" cy="895.77" r="2.4"/>
<circle cx="484.67" cy="895.77" r="2.4"/>
<circle cx="492.55" cy="897.75" r="2.4"/>
<circle cx="495.84" cy="907.99" r="2.4"/>
<circle cx="497.81" cy="907.6" r="2.4"/>
<circle cx="479.42" cy="910.88" r="2.4"/>
<circle cx="490.58" cy="913.25" r="2.4"/>
<circle cx="476.53" cy="918.77" r="2.4"/>
<circle cx="483.36" cy="917.45" r="2.4"/>
<circle cx="493.87" cy="917.72" r="2.4"/>
<circle cx="490.58" cy="920.48" r="2.4"/>
<circle cx="484.67" cy="922.71" r="2.4"/>
<circle cx="483.36" cy="927.04" r="2.4"/>
<circle cx="478.1" cy="930.59" r="2.4"/>
<circle cx="496.76" cy="930.59" r="2.4"/>
<circle cx="494.92" cy="945.96" r="2.4"/>
<circle cx="472.58" cy="949.64" r="2.4"/>
</g>
<g fill="#000" fill-opacity="0.25" stroke="#000" stroke-opacity="0.25" stroke-width="0.7">
<circle cx="559.04" cy="867.13" r="2.4"/>
<circle cx="568.24" cy="878.3" r="2.4"/>
<circle cx="549.85" cy="881.32" r="2.4"/>
<circle cx="558.78" cy="880.66" r="2.4"/>
<circle cx="562.33" cy="881.32" r="2.4"/>
<circle cx="548.53" cy="883.95" r="2.4"/>
<circle cx="567.32" cy="884.21" r="2.4"/>
<circle cx="552.74" cy="892.75" r="2.4"/>
<circle cx="567.58" cy="895.51" r="2.4"/>
<circle cx="553.79" cy="897.09" r="2.4"/>
<circle cx="549.45" cy="899.06" r="2.4"/>
<circle cx="555.5" cy="907.21" r="2.4"/>
<circle cx="556.42" cy="910.23" r="2.4"/>
<circle cx="565.61" cy="908.91" r="2.4"/>
<circle cx="566.66" cy="910.23" r="2.4"/>
<circle cx="570.21" cy="922.05" r="2.4"/>
<circle cx="574.81" cy="921.39" r="2.4"/>
<circle cx="569.95" cy="927.04" r="2.4"/>
<circle cx="550.9" cy="932.17" r="2.4"/>
<circle cx="558.65" cy="930.99" r="2.4"/>
<circle cx="556.42" cy="935.58" r="2.4"/>
<circle cx="568.64" cy="935.19" r="2.4"/>
<circle cx="573.89" cy="938.87" r="2.4"/>
<circle cx="547.88" cy="940.45" r="2.4"/>
<circle cx="555.5" cy="939.53" r="2.4"/>
<circle cx="558.39" cy="943.47" r="2.4"/>
<circle cx="572.84" cy="946.36" r="2.4"/>
<circle cx="573.1" cy="959.1" r="2.4"/>
<circle cx="553.53" cy="970.93" r="2.4"/>
</g>
<g fill="#000" fill-opacity="0.25" stroke="#000" stroke-opacity="0.25" stroke-width="0.7">
<circle cx="643.32" cy="872.78" r="2.4"/>
<circle cx="637.41" cy="877.38" r="2.4"/>
<circle cx="646.61" cy="886.18" r="2.4"/>
<circle cx="639.91" cy="892.49" r="2.4"/>
<circle cx="626.24" cy="896.43" r="2.4"/>
<circle cx="631.76" cy="895.77" r="2.4"/>
<circle cx="641.61" cy="895.77" r="2.4"/>
<circle cx="646.21" cy="895.51" r="2.4"/>
<circle cx="648.18" cy="896.43" r="2.4"/>
<circle cx="653.44" cy="897.35" r="2.4"/>
<circle cx="645.55" cy="900.37" r="2.4"/>
<circle cx="651.73" cy="904.31" r="2.4"/>
<circle cx="633.07" cy="904.97" r="2.4"/>
<circle cx="625.58" cy="906.55" r="2.4"/>
<circle cx="630.45" cy="907.86" r="2.4"/>
<circle cx="643.58" cy="913.51" r="2.4"/>
<circle cx="634.39" cy="918.11" r="2.4"/>
<circle cx="635.04" cy="920.08" r="2.4"/>
<circle cx="623.48" cy="922.31" r="2.4"/>
<circle cx="639.64" cy="925.34" r="2.4"/>
<circle cx="636.75" cy="939.13" r="2.4"/>
<circle cx="642.27" cy="938.74" r="2.4"/>
<circle cx="647.53" cy="937.42" r="2.4"/>
<circle cx="637.28" cy="940.71" r="2.4"/>
</g>
<path d="M485.22 897.35V913.51M469.91 897.35H500.52M469.91 913.51H500.52" stroke="#000" stroke-width="2.05" fill="none"/>
<circle cx="485.22" cy="905.37" r="4.7" fill="#000"/>
<path d="M561.75 904.05V924.29M546.44 904.05H577.06M546.44 924.29H577.06" stroke="#000" stroke-width="2.05" fill="none"/>
<circle cx="561.75" cy="914.17" r="4.7" fill="#000"/>
<path d="M638.28 899.32V913.12M622.98 899.32H653.59M622.98 913.12H653.59" stroke="#000" stroke-width="2.05" fill="none"/>
<circle cx="638.28" cy="906.02" r="4.7" fill="#000"/>
</g>
</svg>
</body></html>
